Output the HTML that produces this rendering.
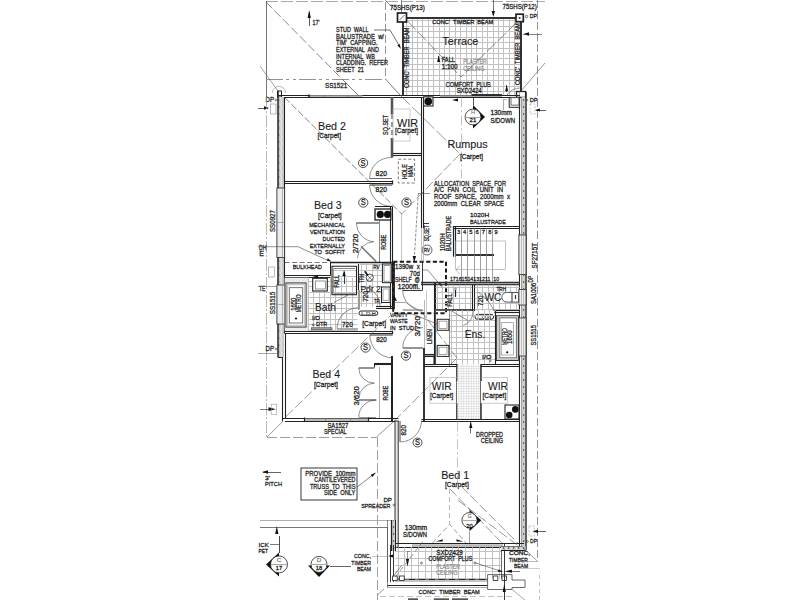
<!DOCTYPE html>
<html><head><meta charset="utf-8"><style>
html,body{margin:0;padding:0;background:#fff;width:800px;height:600px;overflow:hidden}
svg{position:absolute;left:0;top:0}
text{font-family:"Liberation Sans",sans-serif;white-space:pre}
</style></head><body>
<svg width="800" height="600" viewBox="0 0 800 600">
<defs>
<pattern id="hv" width="5" height="7" patternUnits="userSpaceOnUse"><rect width="5" height="7" fill="#cdcdcd"/><path d="M0.5,0 Q2.5,3.5 0.5,7" stroke="#e8e8e8" stroke-width="1.1" fill="none"/><circle cx="3.6" cy="2" r="0.75" fill="#333"/></pattern>
<pattern id="dots" width="2.5" height="2.5" patternUnits="userSpaceOnUse"><rect width="2.5" height="2.5" fill="#f7f7f7"/><circle cx="1.25" cy="1.25" r="0.65" fill="#bcbcbc"/></pattern>
<pattern id="bh" width="3" height="3" patternUnits="userSpaceOnUse"><rect width="3" height="3" fill="#e6e6e6"/><path d="M0,3 L3,0" stroke="#fafafa" stroke-width="0.8"/></pattern>
</defs>
<rect width="800" height="600" fill="#fff"/>
<line x1="266" y1="1.5" x2="545" y2="1.5" stroke="#aaa" stroke-width="1" stroke-dasharray="12,3"/>
<line x1="266.5" y1="1" x2="266.5" y2="97" stroke="#555" stroke-width="0.8"/>
<line x1="266" y1="79.5" x2="385.5" y2="79.5" stroke="#888" stroke-width="0.9" stroke-dasharray="17,3,3,4,3,3"/>
<line x1="266" y1="2" x2="343" y2="80" stroke="#555" stroke-width="0.7" stroke-dasharray="9,3"/>
<line x1="343" y1="80" x2="361" y2="98" stroke="#444" stroke-width="0.7"/>
<line x1="260" y1="66" x2="278" y2="91" stroke="#666" stroke-width="0.6"/>
<path d="M272.3,93 A6.6,6.6 0 0 1 285.5,93" fill="none" stroke="#888" stroke-width="0.6"/>
<rect x="277.5" y="91" width="4" height="6" fill="#fff" stroke="#222" stroke-width="1"/>
<line x1="385.5" y1="2" x2="385.5" y2="79" stroke="#777" stroke-width="0.8" stroke-dasharray="8,3"/>
<line x1="385.5" y1="79" x2="400" y2="95" stroke="#444" stroke-width="0.7"/>
<line x1="309.5" y1="12" x2="309.5" y2="26" stroke="#333" stroke-width="0.8"/>
<polygon points="307.6,18 309.2,10 310.8,18" fill="#111" stroke="none" stroke-width="0"/>
<text x="312.5" y="25" font-size="7.07" fill="#1a1a1a" stroke="#1a1a1a" stroke-width="0.26" textLength="7" lengthAdjust="spacingAndGlyphs" text-anchor="start">17'</text>
<text x="336" y="32" font-size="6.45" fill="#1a1a1a" stroke="#1a1a1a" stroke-width="0.26" textLength="32.5" lengthAdjust="spacingAndGlyphs" text-anchor="start">STUD  WALL</text>
<text x="336" y="38.67" font-size="6.45" fill="#1a1a1a" stroke="#1a1a1a" stroke-width="0.26" textLength="48" lengthAdjust="spacingAndGlyphs" text-anchor="start">BALUSTRADE  w/</text>
<text x="336" y="45.34" font-size="6.45" fill="#1a1a1a" stroke="#1a1a1a" stroke-width="0.26" textLength="41.5" lengthAdjust="spacingAndGlyphs" text-anchor="start">TIM'  CAPPING.</text>
<text x="336" y="52.01" font-size="6.45" fill="#1a1a1a" stroke="#1a1a1a" stroke-width="0.26" textLength="43" lengthAdjust="spacingAndGlyphs" text-anchor="start">EXTERNAL  AND</text>
<text x="336" y="58.68" font-size="6.45" fill="#1a1a1a" stroke="#1a1a1a" stroke-width="0.26" textLength="39" lengthAdjust="spacingAndGlyphs" text-anchor="start">INTERNAL  WB</text>
<text x="336" y="65.35" font-size="6.45" fill="#1a1a1a" stroke="#1a1a1a" stroke-width="0.26" textLength="52" lengthAdjust="spacingAndGlyphs" text-anchor="start">CLADDING.  REFER</text>
<text x="336" y="72.02" font-size="6.45" fill="#1a1a1a" stroke="#1a1a1a" stroke-width="0.26" textLength="28" lengthAdjust="spacingAndGlyphs" text-anchor="start">SHEET  21</text>
<polyline points="374,30 390,30 399.5,46" fill="none" stroke="#333" stroke-width="0.7"/>
<polygon points="401,49 397.34,45.35 399.59,44.03" fill="#111" stroke="none" stroke-width="0"/>
<text x="325" y="87.7" font-size="6.76" fill="#1a1a1a" stroke="#1a1a1a" stroke-width="0.26" textLength="22.3" lengthAdjust="spacingAndGlyphs" text-anchor="start">SS1521</text>
<line x1="406.5" y1="18.5" x2="406.5" y2="95" stroke="#c2c2c2" stroke-width="1"/>
<line x1="412.5" y1="18.5" x2="412.5" y2="95" stroke="#c2c2c2" stroke-width="1"/>
<line x1="417.5" y1="18.5" x2="417.5" y2="95" stroke="#c2c2c2" stroke-width="1"/>
<line x1="422.5" y1="18.5" x2="422.5" y2="95" stroke="#c2c2c2" stroke-width="1"/>
<line x1="428.5" y1="18.5" x2="428.5" y2="95" stroke="#c2c2c2" stroke-width="1"/>
<line x1="433.5" y1="18.5" x2="433.5" y2="95" stroke="#c2c2c2" stroke-width="1"/>
<line x1="439.5" y1="18.5" x2="439.5" y2="95" stroke="#c2c2c2" stroke-width="1"/>
<line x1="444.5" y1="18.5" x2="444.5" y2="95" stroke="#c2c2c2" stroke-width="1"/>
<line x1="449.5" y1="18.5" x2="449.5" y2="95" stroke="#c2c2c2" stroke-width="1"/>
<line x1="455.5" y1="18.5" x2="455.5" y2="95" stroke="#c2c2c2" stroke-width="1"/>
<line x1="460.5" y1="18.5" x2="460.5" y2="95" stroke="#c2c2c2" stroke-width="1"/>
<line x1="466.5" y1="18.5" x2="466.5" y2="95" stroke="#c2c2c2" stroke-width="1"/>
<line x1="471.5" y1="18.5" x2="471.5" y2="95" stroke="#c2c2c2" stroke-width="1"/>
<line x1="476.5" y1="18.5" x2="476.5" y2="95" stroke="#c2c2c2" stroke-width="1"/>
<line x1="482.5" y1="18.5" x2="482.5" y2="95" stroke="#c2c2c2" stroke-width="1"/>
<line x1="487.5" y1="18.5" x2="487.5" y2="95" stroke="#c2c2c2" stroke-width="1"/>
<line x1="493.5" y1="18.5" x2="493.5" y2="95" stroke="#c2c2c2" stroke-width="1"/>
<line x1="498.5" y1="18.5" x2="498.5" y2="95" stroke="#c2c2c2" stroke-width="1"/>
<line x1="503.5" y1="18.5" x2="503.5" y2="95" stroke="#c2c2c2" stroke-width="1"/>
<line x1="509.5" y1="18.5" x2="509.5" y2="95" stroke="#c2c2c2" stroke-width="1"/>
<line x1="514.5" y1="18.5" x2="514.5" y2="95" stroke="#c2c2c2" stroke-width="1"/>
<line x1="403.5" y1="20.5" x2="519.8" y2="20.5" stroke="#c2c2c2" stroke-width="1"/>
<line x1="403.5" y1="26.5" x2="519.8" y2="26.5" stroke="#c2c2c2" stroke-width="1"/>
<line x1="403.5" y1="31.5" x2="519.8" y2="31.5" stroke="#c2c2c2" stroke-width="1"/>
<line x1="403.5" y1="37.5" x2="519.8" y2="37.5" stroke="#c2c2c2" stroke-width="1"/>
<line x1="403.5" y1="42.5" x2="519.8" y2="42.5" stroke="#c2c2c2" stroke-width="1"/>
<line x1="403.5" y1="48.5" x2="519.8" y2="48.5" stroke="#c2c2c2" stroke-width="1"/>
<line x1="403.5" y1="53.5" x2="519.8" y2="53.5" stroke="#c2c2c2" stroke-width="1"/>
<line x1="403.5" y1="58.5" x2="519.8" y2="58.5" stroke="#c2c2c2" stroke-width="1"/>
<line x1="403.5" y1="64.5" x2="519.8" y2="64.5" stroke="#c2c2c2" stroke-width="1"/>
<line x1="403.5" y1="69.5" x2="519.8" y2="69.5" stroke="#c2c2c2" stroke-width="1"/>
<line x1="403.5" y1="75.5" x2="519.8" y2="75.5" stroke="#c2c2c2" stroke-width="1"/>
<line x1="403.5" y1="80.5" x2="519.8" y2="80.5" stroke="#c2c2c2" stroke-width="1"/>
<line x1="403.5" y1="86.5" x2="519.8" y2="86.5" stroke="#c2c2c2" stroke-width="1"/>
<line x1="403.5" y1="91.5" x2="519.8" y2="91.5" stroke="#c2c2c2" stroke-width="1"/>
<line x1="406.5" y1="18" x2="516" y2="18" stroke="#333" stroke-width="1.8"/>
<line x1="403" y1="22" x2="403" y2="95" stroke="#333" stroke-width="2"/>
<line x1="521" y1="22" x2="521" y2="92" stroke="#333" stroke-width="2"/>
<rect x="397.5" y="13" width="9" height="9" fill="#fff" stroke="#222" stroke-width="1.7"/>
<line x1="399.5" y1="20" x2="404.5" y2="15" stroke="#444" stroke-width="0.8"/>
<rect x="516" y="14.2" width="7.3" height="7.5" fill="#fff" stroke="#222" stroke-width="1.7"/>
<circle cx="519.6" cy="18" r="1" fill="#333" stroke="none" stroke-width="0"/>
<line x1="401.5" y1="0" x2="401.5" y2="13" stroke="#555" stroke-width="0.7"/>
<line x1="385" y1="0" x2="396" y2="11" stroke="#555" stroke-width="0.6"/>
<text x="390" y="9.6" font-size="6.55" fill="#1a1a1a" stroke="#1a1a1a" stroke-width="0.26" textLength="34.8" lengthAdjust="spacingAndGlyphs" text-anchor="start">75SHS(P13)</text>
<text x="502.5" y="9.3" font-size="6.55" fill="#1a1a1a" stroke="#1a1a1a" stroke-width="0.26" textLength="34.2" lengthAdjust="spacingAndGlyphs" text-anchor="start">75SHS(P12)</text>
<circle cx="526.5" cy="16.5" r="1.2" fill="none" stroke="#222" stroke-width="0.6"/>
<text x="529.7" y="18.3" font-size="5.82" fill="#1a1a1a" stroke="#1a1a1a" stroke-width="0.26" textLength="7.3" lengthAdjust="spacingAndGlyphs" text-anchor="start">DP</text>
<line x1="493.5" y1="0" x2="493.5" y2="13" stroke="#333" stroke-width="0.7"/>
<polygon points="491.6,11 495,11 493.3,17" fill="#111" stroke="none" stroke-width="0"/>
<text x="432.3" y="23.5" font-size="5.41" fill="#1a1a1a" stroke="#1a1a1a" stroke-width="0.26" textLength="61" lengthAdjust="spacingAndGlyphs" text-anchor="start">CONC'  TIMBER  BEAM</text>
<text x="0" y="0" font-size="6.3" fill="#1a1a1a" stroke="#1a1a1a" stroke-width="0.26" textLength="60.5" lengthAdjust="spacingAndGlyphs" transform="translate(408.6 88) rotate(-90)">CONC'  TIMBER  BEAM</text>
<text x="0" y="0" font-size="6.3" fill="#1a1a1a" stroke="#1a1a1a" stroke-width="0.26" textLength="61.7" lengthAdjust="spacingAndGlyphs" transform="translate(519.81 85) rotate(-90)">CONC'  TIMBER  BEAM</text>
<line x1="523" y1="34.5" x2="542" y2="34.5" stroke="#555" stroke-width="0.7"/>
<polygon points="523.5,34 529,32.3 529,35.7" fill="#111" stroke="none" stroke-width="0"/>
<text x="442.5" y="45" font-size="11.4" fill="#1a1a1a" stroke="#1a1a1a" stroke-width="0.1" textLength="35.8" lengthAdjust="spacingAndGlyphs" text-anchor="start">Terrace</text>
<line x1="438.5" y1="56" x2="438.5" y2="62" stroke="#222" stroke-width="0.9"/>
<polygon points="437.1,62 438.7,56 440.3,62" fill="#111" stroke="none" stroke-width="0"/>
<text x="441.7" y="62" font-size="6.34" fill="#1a1a1a" stroke="#1a1a1a" stroke-width="0.26" textLength="13.3" lengthAdjust="spacingAndGlyphs" text-anchor="start">FALL</text>
<text x="441.7" y="69.3" font-size="6.34" fill="#1a1a1a" stroke="#1a1a1a" stroke-width="0.26" textLength="15.8" lengthAdjust="spacingAndGlyphs" text-anchor="start">1:100</text>
<text x="463.3" y="64.2" font-size="6.34" fill="#808080" stroke="#808080" stroke-width="0.15" textLength="23.4" lengthAdjust="spacingAndGlyphs" text-anchor="start">PLASTER</text>
<text x="463.3" y="70.8" font-size="6.34" fill="#808080" stroke="#808080" stroke-width="0.15" textLength="20.9" lengthAdjust="spacingAndGlyphs" text-anchor="start">CEILING</text>
<line x1="407.5" y1="21" x2="461" y2="77" stroke="#444" stroke-width="0.6" stroke-dasharray="12,3"/>
<line x1="517" y1="22" x2="461" y2="77" stroke="#444" stroke-width="0.6" stroke-dasharray="12,3"/>
<text x="445.7" y="86.7" font-size="6.34" fill="#1a1a1a" stroke="#1a1a1a" stroke-width="0.26" textLength="45.1" lengthAdjust="spacingAndGlyphs" text-anchor="start">COMFORT  PLUS</text>
<text x="456.7" y="92.5" font-size="6.34" fill="#1a1a1a" stroke="#1a1a1a" stroke-width="0.26" textLength="25" lengthAdjust="spacingAndGlyphs" text-anchor="start">SXD2424</text>
<line x1="506.5" y1="85" x2="506.5" y2="92" stroke="#222" stroke-width="0.7"/>
<polygon points="505.2,91 506.7,85 508.2,91" fill="#111" stroke="none" stroke-width="0"/>
<path d="M507,95 Q512,88 520,88" fill="none" stroke="#555" stroke-width="0.6"/>
<line x1="521" y1="91" x2="545" y2="63" stroke="#555" stroke-width="0.6"/>
<line x1="537.5" y1="0" x2="537.5" y2="561" stroke="#777" stroke-width="0.8" stroke-dasharray="8,3"/>
<rect x="516.5" y="91.5" width="9.1" height="5.9" fill="#fff" stroke="#222" stroke-width="1.3"/>
<line x1="519.5" y1="91.5" x2="519.5" y2="97.4" stroke="#777" stroke-width="0.6"/>
<text x="529.7" y="101.6" font-size="6.03" fill="#1a1a1a" stroke="#1a1a1a" stroke-width="0.26" textLength="7.8" lengthAdjust="spacingAndGlyphs" text-anchor="start">DP</text>
<circle cx="527" cy="100" r="0.9" fill="none" stroke="#222" stroke-width="0.5"/>
<rect x="530" y="104" width="5" height="10" fill="none" stroke="#999" stroke-width="0.6" stroke-dasharray="2,1.5"/>
<line x1="536" y1="110.5" x2="546" y2="110.5" stroke="#222" stroke-width="0.7"/>
<polygon points="535,110 540,108.4 540,111.6" fill="#111" stroke="none" stroke-width="0"/>
<line x1="277.5" y1="95.5" x2="520" y2="95.5" stroke="#222" stroke-width="1.2"/>
<line x1="284.5" y1="97.5" x2="519.5" y2="97.5" stroke="#222" stroke-width="1.1"/>
<rect x="309" y="95.4" width="53.5" height="1.6" fill="#bbb" stroke="none" stroke-width="0"/>
<line x1="309" y1="94.5" x2="309" y2="98" stroke="#222" stroke-width="1.6"/>
<line x1="324.5" y1="95" x2="324.5" y2="97.4" stroke="#666" stroke-width="0.6"/>
<line x1="347.5" y1="95" x2="347.5" y2="97.4" stroke="#666" stroke-width="0.6"/>
<rect x="440" y="95.4" width="62" height="1.6" fill="#aaa" stroke="none" stroke-width="0"/>
<line x1="471.6" y1="95" x2="502" y2="95" stroke="#222" stroke-width="1.8"/>
<polygon points="452,100 458,98.6 458,101.4" fill="#111" stroke="none" stroke-width="0"/>
<rect x="278.4" y="97" width="4.8" height="260" fill="url(#hv)"/>
<line x1="278" y1="91" x2="278" y2="357" stroke="#222" stroke-width="1.5"/>
<line x1="283.5" y1="97" x2="283.5" y2="357" stroke="#aaa" stroke-width="0.6"/>
<line x1="284.5" y1="97" x2="284.5" y2="333.3" stroke="#222" stroke-width="1.1"/>
<rect x="276.9" y="188" width="7.7" height="69.5" fill="#ececec" stroke="#333" stroke-width="0.9"/>
<line x1="282.5" y1="188" x2="282.5" y2="257.5" stroke="#999" stroke-width="0.7"/>
<line x1="277" y1="222.5" x2="284.6" y2="222.5" stroke="#888" stroke-width="0.6"/>
<rect x="276.9" y="285" width="7.7" height="39" fill="#ececec" stroke="#333" stroke-width="0.9"/>
<line x1="282.5" y1="285" x2="282.5" y2="324" stroke="#999" stroke-width="0.7"/>
<line x1="277" y1="304.5" x2="284.6" y2="304.5" stroke="#888" stroke-width="0.6"/>
<line x1="282.5" y1="357" x2="282.5" y2="421.3" stroke="#222" stroke-width="1.1"/>
<line x1="285.5" y1="333.3" x2="285.5" y2="419" stroke="#222" stroke-width="1.1"/>
<line x1="277.75" y1="357.5" x2="282.6" y2="357.5" stroke="#222" stroke-width="1"/>
<rect x="521.8" y="97" width="3.4" height="450" fill="url(#hv)"/>
<line x1="519.5" y1="97" x2="519.5" y2="547.3" stroke="#222" stroke-width="1.1"/>
<line x1="521.5" y1="97" x2="521.5" y2="547" stroke="#777" stroke-width="0.7"/>
<line x1="526" y1="92" x2="526" y2="550" stroke="#222" stroke-width="1.4"/>
<rect x="518.9" y="235" width="7.1" height="39.5" fill="#f0f0f0" stroke="#333" stroke-width="0.9"/>
<line x1="521.5" y1="235" x2="521.5" y2="274.5" stroke="#999" stroke-width="0.6"/>
<line x1="523.5" y1="235" x2="523.5" y2="274.5" stroke="#999" stroke-width="0.6"/>
<rect x="518.9" y="289.5" width="7.1" height="15.5" fill="#f0f0f0" stroke="#333" stroke-width="0.9"/>
<line x1="521.5" y1="289.5" x2="521.5" y2="305" stroke="#999" stroke-width="0.6"/>
<line x1="523.5" y1="289.5" x2="523.5" y2="305" stroke="#999" stroke-width="0.6"/>
<rect x="518.9" y="318" width="7.1" height="38" fill="#f0f0f0" stroke="#333" stroke-width="0.9"/>
<line x1="521.5" y1="318" x2="521.5" y2="356" stroke="#999" stroke-width="0.6"/>
<line x1="523.5" y1="318" x2="523.5" y2="356" stroke="#999" stroke-width="0.6"/>
<rect x="509.2" y="97.4" width="10.4" height="9.9" fill="#fff" stroke="#222" stroke-width="1"/>
<rect x="511" y="97.7" width="7.9" height="7.4" fill="#fff" stroke="#444" stroke-width="0.8"/>
<line x1="503.5" y1="110" x2="503.5" y2="99.4" stroke="#777" stroke-width="0.6"/>
<line x1="503.5" y1="99.5" x2="506.6" y2="99.5" stroke="#777" stroke-width="0.6"/>
<text x="265.5" y="102" font-size="6.86" fill="#1a1a1a" stroke="#1a1a1a" stroke-width="0.26" textLength="8.5" lengthAdjust="spacingAndGlyphs" text-anchor="start">DP</text>
<circle cx="276" cy="100" r="1" fill="none" stroke="#222" stroke-width="0.5"/>
<line x1="258" y1="108.5" x2="268" y2="108.5" stroke="#222" stroke-width="0.7"/>
<polygon points="269,108 264,106.3 264,109.7" fill="#111" stroke="none" stroke-width="0"/>
<rect x="270.5" y="104" width="5.5" height="10" fill="none" stroke="#999" stroke-width="0.7"/>
<line x1="266.5" y1="97" x2="266.5" y2="437" stroke="#999" stroke-width="0.7" stroke-dasharray="12,2,2,2"/>
<text x="259" y="249.5" font-size="6.86" fill="#1a1a1a" stroke="#1a1a1a" stroke-width="0.26" textLength="7.5" lengthAdjust="spacingAndGlyphs" text-anchor="start">DH</text>
<text x="259.3" y="256.3" font-size="6.86" fill="#1a1a1a" stroke="#1a1a1a" stroke-width="0.26" textLength="4.7" lengthAdjust="spacingAndGlyphs" text-anchor="start">E</text>
<polyline points="258,246.7 298,246.7 329,261" fill="none" stroke="#444" stroke-width="0.6"/>
<polygon points="331.7,261.7 326.67,260.58 327.79,258.35" fill="#111" stroke="none" stroke-width="0"/>
<rect x="268.5" y="267" width="6" height="10" fill="none" stroke="#999" stroke-width="0.7"/>
<text x="0" y="0" font-size="6.48" fill="#1a1a1a" stroke="#1a1a1a" stroke-width="0.26" textLength="22" lengthAdjust="spacingAndGlyphs" transform="translate(274.57 232) rotate(-90)">SS0927</text>
<text x="259" y="290.5" font-size="6.86" fill="#1a1a1a" stroke="#1a1a1a" stroke-width="0.26" textLength="6.5" lengthAdjust="spacingAndGlyphs" text-anchor="start">TE</text>
<line x1="258" y1="286.5" x2="277" y2="286.5" stroke="#666" stroke-width="0.6"/>
<text x="0" y="0" font-size="6.48" fill="#1a1a1a" stroke="#1a1a1a" stroke-width="0.26" textLength="22.5" lengthAdjust="spacingAndGlyphs" transform="translate(275.27 314.2) rotate(-90)">SS1515</text>
<text x="265.5" y="351" font-size="6.86" fill="#1a1a1a" stroke="#1a1a1a" stroke-width="0.26" textLength="8.5" lengthAdjust="spacingAndGlyphs" text-anchor="start">DP</text>
<circle cx="276" cy="349" r="1" fill="none" stroke="#222" stroke-width="0.5"/>
<line x1="258" y1="353.5" x2="277" y2="353.5" stroke="#666" stroke-width="0.6"/>
<polygon points="275.8,409.2 268.5,407.3 268.5,411.1" fill="#111" stroke="none" stroke-width="0"/>
<line x1="260" y1="409.5" x2="269" y2="409.5" stroke="#222" stroke-width="0.6"/>
<rect x="271.2" y="404.2" width="5.5" height="10.1" fill="none" stroke="#999" stroke-width="0.6"/>
<text x="0" y="0" font-size="6.48" fill="#1a1a1a" stroke="#1a1a1a" stroke-width="0.26" textLength="25.5" lengthAdjust="spacingAndGlyphs" transform="translate(536.77 268.5) rotate(-90)">SF2715T</text>
<text x="0" y="0" font-size="6.48" fill="#1a1a1a" stroke="#1a1a1a" stroke-width="0.26" textLength="21" lengthAdjust="spacingAndGlyphs" transform="translate(536.27 304) rotate(-90)">SA1006</text>
<text x="0" y="0" font-size="6.48" fill="#1a1a1a" stroke="#1a1a1a" stroke-width="0.26" textLength="20.5" lengthAdjust="spacingAndGlyphs" transform="translate(536.27 345.5) rotate(-90)">SS1515</text>
<text x="0" y="0" font-size="6.3" fill="#1a1a1a" stroke="#1a1a1a" stroke-width="0.26" textLength="6.5" lengthAdjust="spacingAndGlyphs" transform="translate(533.21 282.5) rotate(-90)">DP</text>
<text x="318" y="130" font-size="11.4" fill="#1a1a1a" stroke="#1a1a1a" stroke-width="0.1" textLength="28" lengthAdjust="spacingAndGlyphs" text-anchor="start">Bed 2</text>
<text x="317.5" y="138" font-size="7.18" fill="#1a1a1a" stroke="#1a1a1a" stroke-width="0.26" textLength="23.5" lengthAdjust="spacingAndGlyphs" text-anchor="start">[Carpet]</text>
<line x1="284.6" y1="181.5" x2="392" y2="181.5" stroke="#222" stroke-width="1.1"/>
<line x1="284.6" y1="183.5" x2="392" y2="183.5" stroke="#222" stroke-width="1.1"/>
<line x1="392.5" y1="180.5" x2="392.5" y2="184.5" stroke="#222" stroke-width="1.3"/>
<line x1="369.6" y1="178.5" x2="392" y2="178.5" stroke="#444" stroke-width="0.8"/>
<line x1="369.6" y1="185" x2="392" y2="185" stroke="#888" stroke-width="1.8"/>
<path d="M391.8,157.6 A21.1,21.1 0 0 0 369.6,178.7" fill="none" stroke="#444" stroke-width="0.6"/>
<path d="M369.6,185 A21.6,21.6 0 0 0 391.8,206.3" fill="none" stroke="#444" stroke-width="0.6"/>
<text x="375.6" y="175.5" font-size="6.55" fill="#1a1a1a" stroke="#1a1a1a" stroke-width="0.26" textLength="11.4" lengthAdjust="spacingAndGlyphs" text-anchor="start">820</text>
<text x="375.6" y="191.7" font-size="6.55" fill="#1a1a1a" stroke="#1a1a1a" stroke-width="0.26" textLength="11.4" lengthAdjust="spacingAndGlyphs" text-anchor="start">820</text>
<circle cx="363.1" cy="163" r="4.6" fill="none" stroke="#222" stroke-width="0.8"/>
<text x="360.6" y="165.8" font-size="8.22" fill="#1a1a1a" stroke="#1a1a1a" stroke-width="0.25" textLength="5" lengthAdjust="spacingAndGlyphs" text-anchor="start">S</text>
<circle cx="363.3" cy="202.6" r="4.6" fill="none" stroke="#222" stroke-width="0.8"/>
<text x="360.8" y="205.4" font-size="8.22" fill="#1a1a1a" stroke="#1a1a1a" stroke-width="0.25" textLength="5" lengthAdjust="spacingAndGlyphs" text-anchor="start">S</text>
<circle cx="406.5" cy="202.5" r="4.6" fill="none" stroke="#222" stroke-width="0.8"/>
<text x="404" y="205.3" font-size="8.22" fill="#1a1a1a" stroke="#1a1a1a" stroke-width="0.25" textLength="5" lengthAdjust="spacingAndGlyphs" text-anchor="start">S</text>
<line x1="392" y1="97" x2="392" y2="114" stroke="#555" stroke-width="2.6"/>
<line x1="392" y1="114" x2="392" y2="138" stroke="#999" stroke-width="2.2" stroke-dasharray="5,3"/>
<line x1="392" y1="138" x2="392" y2="157.6" stroke="#555" stroke-width="2.6"/>
<line x1="421.5" y1="97" x2="421.5" y2="228" stroke="#222" stroke-width="1.1"/>
<line x1="423.5" y1="97" x2="423.5" y2="228" stroke="#222" stroke-width="1.1"/>
<line x1="393" y1="153.5" x2="421.7" y2="153.5" stroke="#222" stroke-width="1.1"/>
<line x1="393" y1="155.5" x2="421.7" y2="155.5" stroke="#222" stroke-width="1.1"/>
<rect x="393" y="109" width="17" height="32" fill="none" stroke="#aaa" stroke-width="0.6"/>
<text x="397" y="127" font-size="11" fill="#1a1a1a" stroke="#1a1a1a" stroke-width="0.1" textLength="21" lengthAdjust="spacingAndGlyphs" text-anchor="start">WIR</text>
<text x="395" y="133.3" font-size="7.18" fill="#1a1a1a" stroke="#1a1a1a" stroke-width="0.26" textLength="23" lengthAdjust="spacingAndGlyphs" text-anchor="start">[Carpet]</text>
<text x="0" y="0" font-size="6.3" fill="#1a1a1a" stroke="#1a1a1a" stroke-width="0.26" textLength="20" lengthAdjust="spacingAndGlyphs" transform="translate(388.2 135) rotate(-90)">SQ.SET</text>
<rect x="423.7" y="96.8" width="9.3" height="9.2" fill="#fff" stroke="#222" stroke-width="1.1"/>
<circle cx="428.3" cy="101.4" r="3.8" fill="#111" stroke="none" stroke-width="0"/>
<rect x="398.3" y="159.2" width="16.3" height="23.8" fill="none" stroke="#444" stroke-width="0.7" stroke-dasharray="3,2"/>
<text x="0" y="0" font-size="6.3" fill="#1a1a1a" stroke="#1a1a1a" stroke-width="0.26" textLength="15.3" lengthAdjust="spacingAndGlyphs" transform="translate(406.5 179.3) rotate(-90)">HOLE</text>
<text x="0" y="0" font-size="6.3" fill="#1a1a1a" stroke="#1a1a1a" stroke-width="0.26" textLength="11" lengthAdjust="spacingAndGlyphs" transform="translate(412.5 177) rotate(-90)">MAN</text>
<text x="314" y="208.7" font-size="11.4" fill="#1a1a1a" stroke="#1a1a1a" stroke-width="0.1" textLength="27.7" lengthAdjust="spacingAndGlyphs" text-anchor="start">Bed 3</text>
<text x="318" y="218" font-size="7.18" fill="#1a1a1a" stroke="#1a1a1a" stroke-width="0.26" textLength="23.7" lengthAdjust="spacingAndGlyphs" text-anchor="start">[Carpet]</text>
<text x="309.2" y="227.2" font-size="6.24" fill="#1a1a1a" stroke="#1a1a1a" stroke-width="0.26" textLength="35.8" lengthAdjust="spacingAndGlyphs" text-anchor="start">MECHANICAL</text>
<text x="310" y="234" font-size="6.24" fill="#1a1a1a" stroke="#1a1a1a" stroke-width="0.26" textLength="35" lengthAdjust="spacingAndGlyphs" text-anchor="start">VENTILATION</text>
<text x="322.5" y="240.8" font-size="6.24" fill="#1a1a1a" stroke="#1a1a1a" stroke-width="0.26" textLength="22.5" lengthAdjust="spacingAndGlyphs" text-anchor="start">DUCTED</text>
<text x="309.7" y="247.6" font-size="6.24" fill="#1a1a1a" stroke="#1a1a1a" stroke-width="0.26" textLength="35.3" lengthAdjust="spacingAndGlyphs" text-anchor="start">EXTERNALLY</text>
<text x="314.2" y="254.4" font-size="6.24" fill="#1a1a1a" stroke="#1a1a1a" stroke-width="0.26" textLength="30.8" lengthAdjust="spacingAndGlyphs" text-anchor="start">TO  SOFFIT</text>
<line x1="390.5" y1="206.3" x2="390.5" y2="309" stroke="#222" stroke-width="1.1"/>
<line x1="392.5" y1="206.3" x2="392.5" y2="309" stroke="#222" stroke-width="1.1"/>
<rect x="375" y="209" width="15.8" height="11" fill="#fff" stroke="#222" stroke-width="1.3"/>
<circle cx="380.3" cy="214.4" r="3.6" fill="#111" stroke="none" stroke-width="0"/>
<circle cx="387.6" cy="214.4" r="3.6" fill="#111" stroke="none" stroke-width="0"/>
<line x1="375" y1="206.5" x2="392" y2="206.5" stroke="#222" stroke-width="1"/>
<line x1="379.5" y1="220" x2="379.5" y2="262" stroke="#555" stroke-width="0.7"/>
<line x1="356.3" y1="223" x2="379" y2="223" stroke="#888" stroke-width="1.8"/>
<path d="M356.3,223 A19,19 0 0 0 373.8,241.7 A17,17 0 0 0 357.5,258" fill="none" stroke="#444" stroke-width="0.6"/>
<line x1="361" y1="246.3" x2="376.2" y2="261.5" stroke="#777" stroke-width="1.6"/>
<text x="0" y="0" font-size="6.48" fill="#1a1a1a" stroke="#1a1a1a" stroke-width="0.26" textLength="19.3" lengthAdjust="spacingAndGlyphs" transform="translate(357.97 253.3) rotate(-90)">2/720</text>
<text x="0" y="0" font-size="6.3" fill="#1a1a1a" stroke="#1a1a1a" stroke-width="0.26" textLength="15.1" lengthAdjust="spacingAndGlyphs" transform="translate(386 249.8) rotate(-90)">ROBE</text>
<line x1="284.6" y1="97.4" x2="401.7" y2="214" stroke="#3a3a3a" stroke-width="0.65" stroke-dasharray="7,2.5"/>
<line x1="400" y1="95" x2="460" y2="154" stroke="#555" stroke-width="0.6" stroke-dasharray="14,3"/>
<line x1="460" y1="154" x2="401.7" y2="214" stroke="#555" stroke-width="0.6" stroke-dasharray="10,3"/>
<line x1="401.5" y1="214" x2="401.5" y2="262" stroke="#999" stroke-width="0.6"/>
<line x1="461.5" y1="97.4" x2="461.5" y2="178" stroke="#999" stroke-width="0.6" stroke-dasharray="10,3,2,3"/>
<line x1="284.6" y1="262.5" x2="329.3" y2="262.5" stroke="#555" stroke-width="0.8" stroke-dasharray="5,2.5"/>
<text x="292.7" y="269" font-size="6.24" fill="#1a1a1a" stroke="#1a1a1a" stroke-width="0.26" textLength="29.3" lengthAdjust="spacingAndGlyphs" text-anchor="start">BULKHEAD</text>
<line x1="330.5" y1="262" x2="330.5" y2="275.7" stroke="#222" stroke-width="1"/>
<line x1="284.6" y1="275.5" x2="330.7" y2="275.5" stroke="#222" stroke-width="1.1"/>
<line x1="284.6" y1="277.5" x2="330.7" y2="277.5" stroke="#222" stroke-width="1.1"/>
<line x1="262.5" y1="262.5" x2="262.5" y2="262.5" stroke="#222" stroke-width="1"/>
<line x1="330.7" y1="262.5" x2="393" y2="262.5" stroke="#222" stroke-width="1.3"/>
<polygon points="312,277 318,275.4 318,278.6" fill="#111" stroke="none" stroke-width="0"/>
<rect x="284.6" y="277.7" width="24.1" height="53.5" fill="url(#bh)"/>
<line x1="308.5" y1="277.7" x2="308.5" y2="331.3" stroke="#c2c2c2" stroke-width="1"/>
<line x1="313.5" y1="277.7" x2="313.5" y2="331.3" stroke="#c2c2c2" stroke-width="1"/>
<line x1="319.5" y1="277.7" x2="319.5" y2="331.3" stroke="#c2c2c2" stroke-width="1"/>
<line x1="324.5" y1="277.7" x2="324.5" y2="331.3" stroke="#c2c2c2" stroke-width="1"/>
<line x1="330.5" y1="277.7" x2="330.5" y2="331.3" stroke="#c2c2c2" stroke-width="1"/>
<line x1="335.5" y1="277.7" x2="335.5" y2="331.3" stroke="#c2c2c2" stroke-width="1"/>
<line x1="341.5" y1="277.7" x2="341.5" y2="331.3" stroke="#c2c2c2" stroke-width="1"/>
<line x1="346.5" y1="277.7" x2="346.5" y2="331.3" stroke="#c2c2c2" stroke-width="1"/>
<line x1="352.5" y1="277.7" x2="352.5" y2="331.3" stroke="#c2c2c2" stroke-width="1"/>
<line x1="308" y1="281.5" x2="357.5" y2="281.5" stroke="#c2c2c2" stroke-width="1"/>
<line x1="308" y1="286.5" x2="357.5" y2="286.5" stroke="#c2c2c2" stroke-width="1"/>
<line x1="308" y1="292.5" x2="357.5" y2="292.5" stroke="#c2c2c2" stroke-width="1"/>
<line x1="308" y1="297.5" x2="357.5" y2="297.5" stroke="#c2c2c2" stroke-width="1"/>
<line x1="308" y1="303.5" x2="357.5" y2="303.5" stroke="#c2c2c2" stroke-width="1"/>
<line x1="308" y1="308.5" x2="357.5" y2="308.5" stroke="#c2c2c2" stroke-width="1"/>
<line x1="308" y1="313.5" x2="357.5" y2="313.5" stroke="#c2c2c2" stroke-width="1"/>
<line x1="308" y1="319.5" x2="357.5" y2="319.5" stroke="#c2c2c2" stroke-width="1"/>
<line x1="308" y1="324.5" x2="357.5" y2="324.5" stroke="#c2c2c2" stroke-width="1"/>
<line x1="308" y1="330.5" x2="357.5" y2="330.5" stroke="#c2c2c2" stroke-width="1"/>
<line x1="332" y1="270.5" x2="357" y2="270.5" stroke="#c2c2c2" stroke-width="1"/>
<line x1="332" y1="276.5" x2="357" y2="276.5" stroke="#c2c2c2" stroke-width="1"/>
<line x1="332" y1="281.5" x2="357" y2="281.5" stroke="#c2c2c2" stroke-width="1"/>
<rect x="286" y="283" width="20" height="44" fill="#fff" stroke="#333" stroke-width="1.1"/>
<rect x="287.3" y="284.5" width="17.4" height="41" fill="none" stroke="#c8c8c8" stroke-width="1.6"/>
<rect x="289.3" y="287.7" width="13.4" height="35.3" fill="#fff" stroke="#555" stroke-width="0.8"/>
<text x="0" y="0" font-size="6.696000000000001" fill="#1a1a1a" stroke="#1a1a1a" stroke-width="0.26" textLength="13" lengthAdjust="spacingAndGlyphs" transform="translate(296.04 310.7) rotate(-90)">1650</text>
<text x="0" y="0" font-size="6.696000000000001" fill="#1a1a1a" stroke="#1a1a1a" stroke-width="0.26" textLength="18" lengthAdjust="spacingAndGlyphs" transform="translate(301.34 312.3) rotate(-90)">METRO</text>
<circle cx="296" cy="318.5" r="1.1" fill="#111" stroke="none" stroke-width="0"/>
<rect x="312.7" y="278.3" width="14.6" height="12.7" fill="#fff" stroke="#222" stroke-width="1.1"/>
<rect x="315.3" y="281" width="10" height="8" fill="#fff" stroke="#666" stroke-width="0.7"/>
<text x="315" y="310.7" font-size="10" fill="#1a1a1a" stroke="#1a1a1a" stroke-width="0.1" textLength="21" lengthAdjust="spacingAndGlyphs" text-anchor="start">Bath</text>
<text x="312" y="319.7" font-size="6.24" fill="#1a1a1a" stroke="#1a1a1a" stroke-width="0.26" textLength="8" lengthAdjust="spacingAndGlyphs" text-anchor="start">I/O</text>
<text x="316" y="326.3" font-size="6.24" fill="#1a1a1a" stroke="#1a1a1a" stroke-width="0.26" textLength="11.3" lengthAdjust="spacingAndGlyphs" text-anchor="start">DTR</text>
<circle cx="313.2" cy="324.8" r="1" fill="none" stroke="#222" stroke-width="0.6"/>
<rect x="311.3" y="327.8" width="20.7" height="2" fill="#aaa" stroke="#333" stroke-width="0.6"/>
<rect x="332" y="266.3" width="24.5" height="28.4" fill="none" stroke="#222" stroke-width="1.1"/>
<line x1="333.5" y1="268" x2="333.5" y2="293" stroke="#666" stroke-width="0.6"/>
<line x1="333.5" y1="293.5" x2="355" y2="293.5" stroke="#666" stroke-width="0.6"/>
<line x1="334" y1="266.5" x2="355" y2="266.5" stroke="#666" stroke-width="0.8"/>
<line x1="334" y1="268.5" x2="355" y2="268.5" stroke="#666" stroke-width="0.8"/>
<text x="0" y="0" font-size="6.912000000000001" fill="#1a1a1a" stroke="#1a1a1a" stroke-width="0.26" textLength="12.7" lengthAdjust="spacingAndGlyphs" transform="translate(339.02 287.7) rotate(-90)">FALL</text>
<line x1="344.5" y1="272" x2="344.5" y2="284" stroke="#222" stroke-width="0.9"/>
<polygon points="342.5,276 344.1,270 345.7,276" fill="#111" stroke="none" stroke-width="0"/>
<line x1="334" y1="302.5" x2="348.4" y2="294.7" stroke="#444" stroke-width="0.6"/>
<path d="M337,328.8 A21,21 0 0 1 358,307.8" fill="none" stroke="#444" stroke-width="0.6"/>
<text x="342" y="326.6" font-size="6.45" fill="#1a1a1a" stroke="#1a1a1a" stroke-width="0.26" textLength="10.7" lengthAdjust="spacingAndGlyphs" text-anchor="start">720</text>
<line x1="337" y1="329" x2="358" y2="329" stroke="#999" stroke-width="1.6"/>
<line x1="284.6" y1="331.5" x2="392.7" y2="331.5" stroke="#222" stroke-width="1.1"/>
<line x1="284.6" y1="333.5" x2="392.7" y2="333.5" stroke="#222" stroke-width="1.1"/>
<line x1="392.5" y1="330.8" x2="392.5" y2="334.2" stroke="#222" stroke-width="1.3"/>
<line x1="358.5" y1="264" x2="358.5" y2="309.6" stroke="#222" stroke-width="1.1"/>
<line x1="359" y1="290" x2="359" y2="309.6" stroke="#999" stroke-width="2"/>
<line x1="361.5" y1="263.5" x2="361.5" y2="307" stroke="#c2c2c2" stroke-width="1"/>
<line x1="366.5" y1="263.5" x2="366.5" y2="307" stroke="#c2c2c2" stroke-width="1"/>
<line x1="372.5" y1="263.5" x2="372.5" y2="307" stroke="#c2c2c2" stroke-width="1"/>
<line x1="377.5" y1="263.5" x2="377.5" y2="307" stroke="#c2c2c2" stroke-width="1"/>
<line x1="360" y1="264.5" x2="382" y2="264.5" stroke="#c2c2c2" stroke-width="1"/>
<line x1="360" y1="270.5" x2="382" y2="270.5" stroke="#c2c2c2" stroke-width="1"/>
<line x1="360" y1="275.5" x2="382" y2="275.5" stroke="#c2c2c2" stroke-width="1"/>
<line x1="360" y1="281.5" x2="382" y2="281.5" stroke="#c2c2c2" stroke-width="1"/>
<line x1="360" y1="286.5" x2="382" y2="286.5" stroke="#c2c2c2" stroke-width="1"/>
<line x1="360" y1="292.5" x2="382" y2="292.5" stroke="#c2c2c2" stroke-width="1"/>
<line x1="360" y1="297.5" x2="382" y2="297.5" stroke="#c2c2c2" stroke-width="1"/>
<line x1="360" y1="303.5" x2="382" y2="303.5" stroke="#c2c2c2" stroke-width="1"/>
<rect x="382.4" y="264" width="9.3" height="18.7" fill="#fff" stroke="#222" stroke-width="1"/>
<rect x="384" y="265.5" width="6.2" height="15.7" fill="none" stroke="#555" stroke-width="0.6"/>
<rect x="381.5" y="287" width="8.7" height="15.5" fill="#fff" stroke="#222" stroke-width="1"/>
<rect x="383" y="289" width="6" height="11.5" fill="none" stroke="#666" stroke-width="0.6"/>
<circle cx="369.7" cy="277.7" r="3.6" fill="#fff" stroke="#222" stroke-width="0.8"/>
<line x1="367.5" y1="275.5" x2="372" y2="280" stroke="#222" stroke-width="0.6"/>
<line x1="372" y1="275.5" x2="367.5" y2="280" stroke="#222" stroke-width="0.6"/>
<line x1="364.7" y1="271.3" x2="368" y2="275.5" stroke="#111" stroke-width="1.6"/>
<text x="373.2" y="268.5" font-size="5.72" fill="#1a1a1a" stroke="#1a1a1a" stroke-width="0.26" textLength="6.4" lengthAdjust="spacingAndGlyphs" text-anchor="start">RV</text>
<text x="0" y="0" font-size="6.3" fill="#1a1a1a" stroke="#1a1a1a" stroke-width="0.26" textLength="8.7" lengthAdjust="spacingAndGlyphs" transform="translate(364.4 282.7) rotate(-90)">TRH</text>
<text x="360.4" y="292" font-size="8.8" fill="#1a1a1a" stroke="#1a1a1a" stroke-width="0.1" textLength="20.4" lengthAdjust="spacingAndGlyphs" text-anchor="start">Pdr 2</text>
<text x="0" y="0" font-size="6.3" fill="#1a1a1a" stroke="#1a1a1a" stroke-width="0.26" textLength="10.8" lengthAdjust="spacingAndGlyphs" transform="translate(367.6 301.8) rotate(-90)">720</text>
<text x="374" y="303.2" font-size="5.62" fill="#1a1a1a" stroke="#1a1a1a" stroke-width="0.26" textLength="5.6" lengthAdjust="spacingAndGlyphs" text-anchor="start">TR</text>
<path d="M361,287 A19,19 0 0 1 380,306" fill="none" stroke="#444" stroke-width="0.6"/>
<line x1="376" y1="306.5" x2="393" y2="306.5" stroke="#222" stroke-width="1.1"/>
<line x1="376" y1="308.5" x2="393" y2="308.5" stroke="#222" stroke-width="1.1"/>
<rect x="359" y="311" width="18.8" height="4.3" fill="#fff" stroke="#222" stroke-width="1" rx="2.1"/>
<text x="361.3" y="314.6" font-size="4.37" fill="#1a1a1a" stroke="#1a1a1a" stroke-width="0.1" textLength="14.4" lengthAdjust="spacingAndGlyphs" text-anchor="start">L.O.H</text>
<text x="362.2" y="326" font-size="7.18" fill="#1a1a1a" stroke="#1a1a1a" stroke-width="0.26" textLength="23.8" lengthAdjust="spacingAndGlyphs" text-anchor="start">[Carpet]</text>
<text x="390" y="316.5" font-size="6.24" fill="#1a1a1a" stroke="#1a1a1a" stroke-width="0.26" textLength="18" lengthAdjust="spacingAndGlyphs" text-anchor="start">VANITY</text>
<text x="390" y="323" font-size="6.24" fill="#1a1a1a" stroke="#1a1a1a" stroke-width="0.26" textLength="17.7" lengthAdjust="spacingAndGlyphs" text-anchor="start">WASTE</text>
<text x="390" y="329.6" font-size="6.24" fill="#1a1a1a" stroke="#1a1a1a" stroke-width="0.26" textLength="24" lengthAdjust="spacingAndGlyphs" text-anchor="start">IN  STUD</text>
<line x1="394" y1="262" x2="394" y2="309" stroke="#222" stroke-width="1.8"/>
<polygon points="394,295 397,301 392.5,300" fill="#111" stroke="none" stroke-width="0"/>
<polyline points="393.2,261.8 446,261.8 446,313.2 393.2,313.2 393.2,261.8" fill="none" stroke="#1a1a1a" stroke-width="2" stroke-dasharray="4.2,2.4"/>
<line x1="418.3" y1="193.3" x2="414.3" y2="258" stroke="#444" stroke-width="0.6" stroke-dasharray="3,1.5"/>
<line x1="418.3" y1="193.5" x2="430" y2="193.5" stroke="#444" stroke-width="0.6"/>
<polygon points="412.6,256 416,256 414.3,262.5" fill="#111" stroke="none" stroke-width="0"/>
<text x="395" y="269.2" font-size="6.45" fill="#1a1a1a" stroke="#1a1a1a" stroke-width="0.26" textLength="24.8" lengthAdjust="spacingAndGlyphs" text-anchor="start">1390w  x</text>
<text x="409.8" y="276" font-size="6.45" fill="#1a1a1a" stroke="#1a1a1a" stroke-width="0.26" textLength="10" lengthAdjust="spacingAndGlyphs" text-anchor="start">70d</text>
<text x="395" y="282.3" font-size="6.45" fill="#1a1a1a" stroke="#1a1a1a" stroke-width="0.26" textLength="24.8" lengthAdjust="spacingAndGlyphs" text-anchor="start">SHELF  @</text>
<text x="397.8" y="289.2" font-size="6.45" fill="#1a1a1a" stroke="#1a1a1a" stroke-width="0.26" textLength="22" lengthAdjust="spacingAndGlyphs" text-anchor="start">1200ffl.</text>
<line x1="422.5" y1="262" x2="422.5" y2="290" stroke="#222" stroke-width="0.9"/>
<line x1="402.7" y1="290.5" x2="422.6" y2="290.5" stroke="#222" stroke-width="0.9"/>
<path d="M402.7,290 A20.6,20.6 0 0 0 423.3,310.6" fill="none" stroke="#444" stroke-width="0.6"/>
<line x1="402.7" y1="310" x2="423" y2="310" stroke="#999" stroke-width="1.5"/>
<polyline points="422,270 427.6,270 440.5,285" fill="none" stroke="#444" stroke-width="0.6"/>
<polygon points="442.4,287 438.14,284.08 440.1,282.37" fill="#111" stroke="none" stroke-width="0"/>
<line x1="410" y1="313" x2="441" y2="325.5" stroke="#444" stroke-width="0.6"/>
<polygon points="443.5,326.5 438.37,325.85 439.34,323.44" fill="#111" stroke="none" stroke-width="0"/>
<line x1="405" y1="302" x2="420" y2="311" stroke="#666" stroke-width="0.6"/>
<line x1="394" y1="302.5" x2="405" y2="302.5" stroke="#666" stroke-width="0.6"/>
<line x1="453.7" y1="226.5" x2="519" y2="226.5" stroke="#222" stroke-width="1.1"/>
<line x1="453.7" y1="228.5" x2="519" y2="228.5" stroke="#222" stroke-width="1.1"/>
<line x1="453.5" y1="226" x2="453.5" y2="256.7" stroke="#222" stroke-width="1.2"/>
<line x1="455.5" y1="226" x2="455.5" y2="256.7" stroke="#222" stroke-width="1.2"/>
<line x1="455" y1="255" x2="494" y2="255" stroke="#333" stroke-width="2"/>
<line x1="461.5" y1="228.3" x2="461.5" y2="282.6" stroke="#777" stroke-width="0.7"/>
<line x1="467.5" y1="228.3" x2="467.5" y2="282.6" stroke="#777" stroke-width="0.7"/>
<line x1="474.5" y1="228.3" x2="474.5" y2="282.6" stroke="#777" stroke-width="0.7"/>
<line x1="480.5" y1="228.3" x2="480.5" y2="282.6" stroke="#777" stroke-width="0.7"/>
<line x1="486.5" y1="228.3" x2="486.5" y2="282.6" stroke="#777" stroke-width="0.7"/>
<line x1="492.5" y1="228.3" x2="492.5" y2="282.6" stroke="#777" stroke-width="0.7"/>
<rect x="455.7" y="241" width="49.9" height="28.6" fill="none" stroke="#999" stroke-width="0.6"/>
<polyline points="460,265.5 455.8,270 460,274.5" fill="none" stroke="#888" stroke-width="0.6"/>
<text x="457.1" y="234.2" font-size="6.03" fill="#1a1a1a" stroke="#1a1a1a" stroke-width="0.26" textLength="3.2" lengthAdjust="spacingAndGlyphs" text-anchor="start">3</text>
<text x="462.9" y="234.2" font-size="6.03" fill="#1a1a1a" stroke="#1a1a1a" stroke-width="0.26" textLength="3.2" lengthAdjust="spacingAndGlyphs" text-anchor="start">4</text>
<text x="469.2" y="234.2" font-size="6.03" fill="#1a1a1a" stroke="#1a1a1a" stroke-width="0.26" textLength="3.2" lengthAdjust="spacingAndGlyphs" text-anchor="start">5</text>
<text x="475.4" y="234.2" font-size="6.03" fill="#1a1a1a" stroke="#1a1a1a" stroke-width="0.26" textLength="3.2" lengthAdjust="spacingAndGlyphs" text-anchor="start">6</text>
<text x="481.7" y="234.2" font-size="6.03" fill="#1a1a1a" stroke="#1a1a1a" stroke-width="0.26" textLength="3.2" lengthAdjust="spacingAndGlyphs" text-anchor="start">7</text>
<text x="488.2" y="234.2" font-size="6.03" fill="#1a1a1a" stroke="#1a1a1a" stroke-width="0.26" textLength="3.2" lengthAdjust="spacingAndGlyphs" text-anchor="start">8</text>
<text x="494.4" y="234.2" font-size="6.03" fill="#1a1a1a" stroke="#1a1a1a" stroke-width="0.26" textLength="3.2" lengthAdjust="spacingAndGlyphs" text-anchor="start">9</text>
<text x="449.9" y="281" font-size="6.03" fill="#1a1a1a" stroke="#1a1a1a" stroke-width="0.26" textLength="49.2" lengthAdjust="spacingAndGlyphs" text-anchor="start">17161514131211  10</text>
<text x="470" y="217" font-size="6.24" fill="#1a1a1a" stroke="#1a1a1a" stroke-width="0.26" textLength="19.2" lengthAdjust="spacingAndGlyphs" text-anchor="start">1020H</text>
<text x="470" y="223.7" font-size="6.24" fill="#1a1a1a" stroke="#1a1a1a" stroke-width="0.26" textLength="35.8" lengthAdjust="spacingAndGlyphs" text-anchor="start">BALUSTRADE</text>
<text x="0" y="0" font-size="6.48" fill="#1a1a1a" stroke="#1a1a1a" stroke-width="0.26" textLength="18" lengthAdjust="spacingAndGlyphs" transform="translate(444.57 251.3) rotate(-90)">1020H</text>
<text x="0" y="0" font-size="6.48" fill="#1a1a1a" stroke="#1a1a1a" stroke-width="0.26" textLength="35.3" lengthAdjust="spacingAndGlyphs" transform="translate(450.57 251.3) rotate(-90)">BALUSTRADE</text>
<text x="434" y="185.6" font-size="6.76" fill="#1a1a1a" stroke="#1a1a1a" stroke-width="0.26" textLength="72" lengthAdjust="spacingAndGlyphs" text-anchor="start">ALLOCATION  SPACE  FOR</text>
<text x="434" y="192.4" font-size="6.76" fill="#1a1a1a" stroke="#1a1a1a" stroke-width="0.26" textLength="69" lengthAdjust="spacingAndGlyphs" text-anchor="start">A/C  FAN  COIL  UNIT  IN</text>
<text x="434" y="199.2" font-size="6.76" fill="#1a1a1a" stroke="#1a1a1a" stroke-width="0.26" textLength="76" lengthAdjust="spacingAndGlyphs" text-anchor="start">ROOF  SPACE,  2000mm  x</text>
<text x="434" y="206" font-size="6.76" fill="#1a1a1a" stroke="#1a1a1a" stroke-width="0.26" textLength="70" lengthAdjust="spacingAndGlyphs" text-anchor="start">2000mm  CLEAR  SPACE</text>
<text x="0" y="0" font-size="6.3" fill="#1a1a1a" stroke="#1a1a1a" stroke-width="0.26" textLength="16" lengthAdjust="spacingAndGlyphs" transform="translate(428.5 241.3) rotate(-90)">SQ.SET</text>
<circle cx="427" cy="250" r="5" fill="none" stroke="#222" stroke-width="0.7"/>
<text x="424" y="252" font-size="5.2" fill="#1a1a1a" stroke="#1a1a1a" stroke-width="0.26" textLength="6" lengthAdjust="spacingAndGlyphs" text-anchor="start">RV</text>
<line x1="423.7" y1="223.5" x2="429" y2="223.5" stroke="#222" stroke-width="0.9"/>
<line x1="421.5" y1="228" x2="421.5" y2="262" stroke="#999" stroke-width="0.6"/>
<line x1="423.5" y1="228" x2="423.5" y2="262" stroke="#999" stroke-width="0.6"/>
<text x="447.4" y="148" font-size="10.5" fill="#1a1a1a" stroke="#1a1a1a" stroke-width="0.1" textLength="40.2" lengthAdjust="spacingAndGlyphs" text-anchor="start">Rumpus</text>
<text x="460" y="159" font-size="7.18" fill="#1a1a1a" stroke="#1a1a1a" stroke-width="0.26" textLength="23" lengthAdjust="spacingAndGlyphs" text-anchor="start">[Carpet]</text>
<polygon points="473,105 485,117 473,128.5" fill="#111" stroke="none" stroke-width="0"/>
<circle cx="473" cy="117" r="7.9" fill="#fff" stroke="#222" stroke-width="0.8"/>
<line x1="465.5" y1="117.5" x2="480.5" y2="117.5" stroke="#aaa" stroke-width="1.1"/>
<text x="470.9" y="114.3" font-size="5.2" fill="#777" stroke="#777" stroke-width="0.1" textLength="4.2" lengthAdjust="spacingAndGlyphs" text-anchor="start">H</text>
<text x="469.6" y="122.3" font-size="5.62" fill="#1a1a1a" stroke="#1a1a1a" stroke-width="0.26" textLength="6.8" lengthAdjust="spacingAndGlyphs" text-anchor="start">21</text>
<line x1="473.5" y1="97.4" x2="473.5" y2="105" stroke="#222" stroke-width="0.8"/>
<text x="490.4" y="115" font-size="6.34" fill="#1a1a1a" stroke="#1a1a1a" stroke-width="0.26" textLength="21.5" lengthAdjust="spacingAndGlyphs" text-anchor="start">130mm</text>
<text x="490.4" y="122.5" font-size="6.34" fill="#1a1a1a" stroke="#1a1a1a" stroke-width="0.26" textLength="24.6" lengthAdjust="spacingAndGlyphs" text-anchor="start">S/DOWN</text>
<line x1="421" y1="282.5" x2="519.6" y2="282.5" stroke="#333" stroke-width="1.3"/>
<line x1="421" y1="284.5" x2="519.6" y2="284.5" stroke="#333" stroke-width="1.3"/>
<line x1="434.5" y1="283" x2="434.5" y2="365" stroke="#222" stroke-width="1.1"/>
<line x1="435.5" y1="283" x2="435.5" y2="365" stroke="#222" stroke-width="1.1"/>
<line x1="426.5" y1="290" x2="426.5" y2="340" stroke="#aaa" stroke-width="0.6"/>
<line x1="437.5" y1="284.8" x2="437.5" y2="310.3" stroke="#c2c2c2" stroke-width="1"/>
<line x1="442.5" y1="284.8" x2="442.5" y2="310.3" stroke="#c2c2c2" stroke-width="1"/>
<line x1="448.5" y1="284.8" x2="448.5" y2="310.3" stroke="#c2c2c2" stroke-width="1"/>
<line x1="453.5" y1="284.8" x2="453.5" y2="310.3" stroke="#c2c2c2" stroke-width="1"/>
<line x1="459.5" y1="284.8" x2="459.5" y2="310.3" stroke="#c2c2c2" stroke-width="1"/>
<line x1="465.5" y1="284.8" x2="465.5" y2="310.3" stroke="#c2c2c2" stroke-width="1"/>
<line x1="470.5" y1="284.8" x2="470.5" y2="310.3" stroke="#c2c2c2" stroke-width="1"/>
<line x1="435.6" y1="287.5" x2="472.6" y2="287.5" stroke="#c2c2c2" stroke-width="1"/>
<line x1="435.6" y1="292.5" x2="472.6" y2="292.5" stroke="#c2c2c2" stroke-width="1"/>
<line x1="435.6" y1="298.5" x2="472.6" y2="298.5" stroke="#c2c2c2" stroke-width="1"/>
<line x1="435.6" y1="303.5" x2="472.6" y2="303.5" stroke="#c2c2c2" stroke-width="1"/>
<line x1="435.6" y1="309.5" x2="472.6" y2="309.5" stroke="#c2c2c2" stroke-width="1"/>
<text x="0" y="0" font-size="6.3" fill="#1a1a1a" stroke="#1a1a1a" stroke-width="0.26" textLength="13.4" lengthAdjust="spacingAndGlyphs" transform="translate(452.2 306.7) rotate(-90)">FALL</text>
<line x1="455.5" y1="290" x2="455.5" y2="297" stroke="#222" stroke-width="1.2"/>
<circle cx="455.5" cy="289" r="0.9" fill="none" stroke="#222" stroke-width="0.5"/>
<line x1="435.6" y1="310" x2="475" y2="310" stroke="#222" stroke-width="1.4"/>
<line x1="472.5" y1="284.8" x2="472.5" y2="311" stroke="#222" stroke-width="1.1"/>
<line x1="474.5" y1="284.8" x2="474.5" y2="311" stroke="#222" stroke-width="1.1"/>
<line x1="477.5" y1="284.8" x2="477.5" y2="310.8" stroke="#c2c2c2" stroke-width="1"/>
<line x1="482.5" y1="284.8" x2="482.5" y2="310.8" stroke="#c2c2c2" stroke-width="1"/>
<line x1="488.5" y1="284.8" x2="488.5" y2="310.8" stroke="#c2c2c2" stroke-width="1"/>
<line x1="493.5" y1="284.8" x2="493.5" y2="310.8" stroke="#c2c2c2" stroke-width="1"/>
<line x1="499.5" y1="284.8" x2="499.5" y2="310.8" stroke="#c2c2c2" stroke-width="1"/>
<line x1="505.5" y1="284.8" x2="505.5" y2="310.8" stroke="#c2c2c2" stroke-width="1"/>
<line x1="510.5" y1="284.8" x2="510.5" y2="310.8" stroke="#c2c2c2" stroke-width="1"/>
<line x1="516.5" y1="284.8" x2="516.5" y2="310.8" stroke="#c2c2c2" stroke-width="1"/>
<line x1="474.8" y1="287.5" x2="519.6" y2="287.5" stroke="#c2c2c2" stroke-width="1"/>
<line x1="474.8" y1="292.5" x2="519.6" y2="292.5" stroke="#c2c2c2" stroke-width="1"/>
<line x1="474.8" y1="298.5" x2="519.6" y2="298.5" stroke="#c2c2c2" stroke-width="1"/>
<line x1="474.8" y1="303.5" x2="519.6" y2="303.5" stroke="#c2c2c2" stroke-width="1"/>
<line x1="474.8" y1="309.5" x2="519.6" y2="309.5" stroke="#c2c2c2" stroke-width="1"/>
<line x1="494.3" y1="310.5" x2="519.6" y2="310.5" stroke="#222" stroke-width="1.1"/>
<line x1="494.3" y1="312.5" x2="519.6" y2="312.5" stroke="#222" stroke-width="1.1"/>
<text x="484.5" y="300.5" font-size="10" fill="#1a1a1a" stroke="#1a1a1a" stroke-width="0.1" textLength="16.8" lengthAdjust="spacingAndGlyphs" text-anchor="start">WC</text>
<text x="496.4" y="291.3" font-size="5.82" fill="#1a1a1a" stroke="#1a1a1a" stroke-width="0.26" textLength="9.8" lengthAdjust="spacingAndGlyphs" text-anchor="start">TRH</text>
<path d="M512.1,292.4 H506.8 A5,4.85 0 0 0 506.8,302.1 H512.1 Z" fill="#fff" stroke="#333" stroke-width="0.8"/>
<rect x="512.1" y="292.4" width="6.5" height="9.7" fill="#fff" stroke="#333" stroke-width="0.8"/>
<line x1="515.5" y1="295" x2="515.5" y2="299" stroke="#333" stroke-width="1.2"/>
<text x="0" y="0" font-size="6.3" fill="#1a1a1a" stroke="#1a1a1a" stroke-width="0.26" textLength="10.3" lengthAdjust="spacingAndGlyphs" transform="translate(482.9 305.9) rotate(-90)">720</text>
<path d="M477.5,291.8 Q488,298 494.3,311" fill="none" stroke="#444" stroke-width="0.6"/>
<rect x="475" y="314.4" width="18.6" height="4.9" fill="#fff" stroke="#222" stroke-width="1" rx="2.4"/>
<text x="477.4" y="318.6" font-size="4.58" fill="#1a1a1a" stroke="#1a1a1a" stroke-width="0.1" textLength="13.8" lengthAdjust="spacingAndGlyphs" text-anchor="start">L.O.H</text>
<line x1="451.5" y1="310.3" x2="451.5" y2="364.6" stroke="#c2c2c2" stroke-width="1"/>
<line x1="456.5" y1="310.3" x2="456.5" y2="364.6" stroke="#c2c2c2" stroke-width="1"/>
<line x1="462.5" y1="310.3" x2="462.5" y2="364.6" stroke="#c2c2c2" stroke-width="1"/>
<line x1="467.5" y1="310.3" x2="467.5" y2="364.6" stroke="#c2c2c2" stroke-width="1"/>
<line x1="473.5" y1="310.3" x2="473.5" y2="364.6" stroke="#c2c2c2" stroke-width="1"/>
<line x1="478.5" y1="310.3" x2="478.5" y2="364.6" stroke="#c2c2c2" stroke-width="1"/>
<line x1="484.5" y1="310.3" x2="484.5" y2="364.6" stroke="#c2c2c2" stroke-width="1"/>
<line x1="489.5" y1="310.3" x2="489.5" y2="364.6" stroke="#c2c2c2" stroke-width="1"/>
<line x1="495.5" y1="310.3" x2="495.5" y2="364.6" stroke="#c2c2c2" stroke-width="1"/>
<line x1="449.6" y1="315.5" x2="495" y2="315.5" stroke="#c2c2c2" stroke-width="1"/>
<line x1="449.6" y1="320.5" x2="495" y2="320.5" stroke="#c2c2c2" stroke-width="1"/>
<line x1="449.6" y1="326.5" x2="495" y2="326.5" stroke="#c2c2c2" stroke-width="1"/>
<line x1="449.6" y1="331.5" x2="495" y2="331.5" stroke="#c2c2c2" stroke-width="1"/>
<line x1="449.6" y1="337.5" x2="495" y2="337.5" stroke="#c2c2c2" stroke-width="1"/>
<line x1="449.6" y1="342.5" x2="495" y2="342.5" stroke="#c2c2c2" stroke-width="1"/>
<line x1="449.6" y1="348.5" x2="495" y2="348.5" stroke="#c2c2c2" stroke-width="1"/>
<line x1="449.6" y1="353.5" x2="495" y2="353.5" stroke="#c2c2c2" stroke-width="1"/>
<line x1="449.6" y1="359.5" x2="495" y2="359.5" stroke="#c2c2c2" stroke-width="1"/>
<path d="M473,311 A14,14 0 0 1 463.3,325.4" fill="none" stroke="#444" stroke-width="0.6"/>
<line x1="451.6" y1="311" x2="468" y2="320.6" stroke="#444" stroke-width="0.6"/>
<text x="464.7" y="337.8" font-size="10.5" fill="#1a1a1a" stroke="#1a1a1a" stroke-width="0.1" textLength="20.6" lengthAdjust="spacingAndGlyphs" text-anchor="start">Ens.</text>
<text x="481.9" y="358.5" font-size="6.24" fill="#1a1a1a" stroke="#1a1a1a" stroke-width="0.26" textLength="9.6" lengthAdjust="spacingAndGlyphs" text-anchor="start">I/O</text>
<circle cx="490.5" cy="360.8" r="0.8" fill="none" stroke="#222" stroke-width="0.5"/>
<line x1="495.5" y1="311" x2="495.5" y2="364.6" stroke="#222" stroke-width="1.1"/>
<rect x="496.3" y="315.8" width="22" height="44.7" fill="#fff" stroke="#222" stroke-width="1"/>
<rect x="498" y="317" width="19" height="42.2" fill="none" stroke="#c8c8c8" stroke-width="1.8"/>
<rect x="499.8" y="317.9" width="16.5" height="39.9" fill="#fff" stroke="#555" stroke-width="0.8"/>
<rect x="501.2" y="322.7" width="12.3" height="32.3" fill="#fff" stroke="#777" stroke-width="0.6"/>
<text x="0" y="0" font-size="6.696000000000001" fill="#1a1a1a" stroke="#1a1a1a" stroke-width="0.26" textLength="17" lengthAdjust="spacingAndGlyphs" transform="translate(506.74 345) rotate(-90)">METRO</text>
<text x="0" y="0" font-size="6.696000000000001" fill="#1a1a1a" stroke="#1a1a1a" stroke-width="0.26" textLength="13.6" lengthAdjust="spacingAndGlyphs" transform="translate(512.04 344) rotate(-90)">1650</text>
<circle cx="507.2" cy="352.3" r="1.1" fill="#111" stroke="none" stroke-width="0"/>
<rect x="435.6" y="310.3" width="14" height="54.3" fill="none" stroke="#666" stroke-width="0.7"/>
<rect x="437.2" y="319.3" width="11.7" height="11" fill="#fff" stroke="#222" stroke-width="1"/>
<rect x="439" y="321.1" width="8" height="7.4" fill="#fff" stroke="#666" stroke-width="0.6"/>
<rect x="437.2" y="345.4" width="11.7" height="11" fill="#fff" stroke="#222" stroke-width="1"/>
<rect x="439" y="347.2" width="8" height="7.4" fill="#fff" stroke="#666" stroke-width="0.6"/>
<line x1="424.5" y1="300" x2="424.5" y2="348" stroke="#888" stroke-width="0.6"/>
<text x="0" y="0" font-size="6.3" fill="#1a1a1a" stroke="#1a1a1a" stroke-width="0.26" textLength="15" lengthAdjust="spacingAndGlyphs" transform="translate(432.2 344) rotate(-90)">LINEN</text>
<line x1="424.3" y1="354.5" x2="434" y2="354.5" stroke="#222" stroke-width="1.1"/>
<line x1="424.3" y1="356.5" x2="434" y2="356.5" stroke="#222" stroke-width="1.1"/>
<rect x="424.3" y="356.1" width="9.7" height="8.5" fill="none" stroke="#222" stroke-width="1"/>
<line x1="424" y1="348" x2="424" y2="421" stroke="#333" stroke-width="2"/>
<line x1="402.8" y1="348" x2="423" y2="348" stroke="#888" stroke-width="1.8"/>
<path d="M402.8,347.8 A20.2,20.2 0 0 1 423,327.6" fill="none" stroke="#444" stroke-width="0.6"/>
<circle cx="406" cy="355.6" r="4.6" fill="none" stroke="#222" stroke-width="0.8"/>
<text x="403.5" y="358.4" font-size="8.22" fill="#1a1a1a" stroke="#1a1a1a" stroke-width="0.25" textLength="5" lengthAdjust="spacingAndGlyphs" text-anchor="start">S</text>
<text x="0" y="0" font-size="6.48" fill="#1a1a1a" stroke="#1a1a1a" stroke-width="0.26" textLength="20.6" lengthAdjust="spacingAndGlyphs" transform="translate(419.97 336.6) rotate(-90)">3/720</text>
<line x1="420" y1="310" x2="457" y2="358" stroke="#555" stroke-width="0.6" stroke-dasharray="10,3"/>
<line x1="369.9" y1="335" x2="392.7" y2="335" stroke="#888" stroke-width="1.8"/>
<text x="376.3" y="341.8" font-size="6.55" fill="#1a1a1a" stroke="#1a1a1a" stroke-width="0.26" textLength="10.6" lengthAdjust="spacingAndGlyphs" text-anchor="start">820</text>
<path d="M369.9,335 A22.8,22.8 0 0 0 392.7,357.8" fill="none" stroke="#444" stroke-width="0.6"/>
<circle cx="365.6" cy="347.6" r="4.6" fill="none" stroke="#222" stroke-width="0.8"/>
<text x="363.1" y="350.4" font-size="8.22" fill="#1a1a1a" stroke="#1a1a1a" stroke-width="0.25" textLength="5" lengthAdjust="spacingAndGlyphs" text-anchor="start">S</text>
<text x="312.5" y="378.3" font-size="11.4" fill="#1a1a1a" stroke="#1a1a1a" stroke-width="0.1" textLength="27.5" lengthAdjust="spacingAndGlyphs" text-anchor="start">Bed 4</text>
<text x="314" y="387" font-size="7.18" fill="#1a1a1a" stroke="#1a1a1a" stroke-width="0.26" textLength="24" lengthAdjust="spacingAndGlyphs" text-anchor="start">[Carpet]</text>
<line x1="285.8" y1="416.7" x2="390" y2="316" stroke="#555" stroke-width="0.6" stroke-dasharray="10,3"/>
<line x1="392" y1="356" x2="392" y2="421" stroke="#222" stroke-width="2"/>
<line x1="374.4" y1="363.5" x2="391" y2="363.5" stroke="#222" stroke-width="1.1"/>
<line x1="374.4" y1="364.5" x2="391" y2="364.5" stroke="#222" stroke-width="1.1"/>
<line x1="374.5" y1="363.1" x2="374.5" y2="367.5" stroke="#222" stroke-width="1"/>
<line x1="379.5" y1="367" x2="379.5" y2="418.5" stroke="#777" stroke-width="0.6"/>
<line x1="358.75" y1="368" x2="374.4" y2="368" stroke="#888" stroke-width="1.8"/>
<line x1="358.75" y1="400" x2="376.25" y2="400" stroke="#888" stroke-width="1.8"/>
<line x1="358.75" y1="418" x2="376" y2="418" stroke="#888" stroke-width="1.8"/>
<path d="M358.75,368 A15.6,15.1 0 0 0 374.4,383.1" fill="none" stroke="#444" stroke-width="0.6"/>
<path d="M359,398 A16,15 0 0 1 374.4,383.1" fill="none" stroke="#444" stroke-width="0.6"/>
<path d="M376.25,400 A17.5,17 0 0 0 358.75,417" fill="none" stroke="#444" stroke-width="0.6"/>
<text x="0" y="0" font-size="6.48" fill="#1a1a1a" stroke="#1a1a1a" stroke-width="0.26" textLength="19.35" lengthAdjust="spacingAndGlyphs" transform="translate(359.17 405.6) rotate(-90)">3/620</text>
<text x="0" y="0" font-size="6.3" fill="#1a1a1a" stroke="#1a1a1a" stroke-width="0.26" textLength="15" lengthAdjust="spacingAndGlyphs" transform="translate(387.81 400.6) rotate(-90)">ROBE</text>
<line x1="282.6" y1="418.5" x2="394" y2="418.5" stroke="#222" stroke-width="1.1"/>
<line x1="285" y1="421.5" x2="394" y2="421.5" stroke="#222" stroke-width="1.1"/>
<rect x="304" y="418.6" width="64" height="2.4" fill="#bbb" stroke="none" stroke-width="0"/>
<line x1="325.5" y1="418.3" x2="325.5" y2="421.3" stroke="#666" stroke-width="0.6"/>
<line x1="350.5" y1="418.3" x2="350.5" y2="421.3" stroke="#666" stroke-width="0.6"/>
<line x1="304.5" y1="417.5" x2="304.5" y2="422" stroke="#222" stroke-width="1.2"/>
<line x1="368.5" y1="417.5" x2="368.5" y2="422" stroke="#222" stroke-width="1.2"/>
<text x="327.4" y="427.9" font-size="6.45" fill="#1a1a1a" stroke="#1a1a1a" stroke-width="0.26" textLength="21" lengthAdjust="spacingAndGlyphs" text-anchor="start">SA1527</text>
<text x="323.9" y="434" font-size="6.45" fill="#1a1a1a" stroke="#1a1a1a" stroke-width="0.26" textLength="22.7" lengthAdjust="spacingAndGlyphs" text-anchor="start">SPECIAL</text>
<line x1="424" y1="364.5" x2="457.8" y2="364.5" stroke="#222" stroke-width="1.1"/>
<line x1="424" y1="366.5" x2="457.8" y2="366.5" stroke="#222" stroke-width="1.1"/>
<line x1="480.5" y1="364.5" x2="519.6" y2="364.5" stroke="#222" stroke-width="1.1"/>
<line x1="480.5" y1="366.5" x2="519.6" y2="366.5" stroke="#222" stroke-width="1.1"/>
<line x1="457" y1="364.6" x2="457" y2="381" stroke="#222" stroke-width="1.4"/>
<line x1="457" y1="403" x2="457" y2="420" stroke="#222" stroke-width="1.4"/>
<line x1="481" y1="364.6" x2="481" y2="381" stroke="#222" stroke-width="1.4"/>
<line x1="481" y1="403" x2="481" y2="420" stroke="#222" stroke-width="1.4"/>
<rect x="457.5" y="364.6" width="22.8" height="55.4" fill="url(#dots)"/>
<line x1="456.5" y1="364.6" x2="456.5" y2="420" stroke="#444" stroke-width="0.8"/>
<line x1="480.5" y1="364.6" x2="480.5" y2="420" stroke="#444" stroke-width="0.8"/>
<line x1="421.5" y1="419.5" x2="519.6" y2="419.5" stroke="#222" stroke-width="1.1"/>
<line x1="421.5" y1="421.5" x2="519.6" y2="421.5" stroke="#222" stroke-width="1.1"/>
<polyline points="385,418.5 398.5,418.5" fill="none" stroke="#222" stroke-width="1.1"/>
<line x1="392" y1="421.5" x2="398.5" y2="421.5" stroke="#222" stroke-width="1.1"/>
<text x="431.7" y="390" font-size="11" fill="#1a1a1a" stroke="#1a1a1a" stroke-width="0.1" textLength="20" lengthAdjust="spacingAndGlyphs" text-anchor="start">WIR</text>
<text x="430" y="397.5" font-size="7.18" fill="#1a1a1a" stroke="#1a1a1a" stroke-width="0.26" textLength="23.3" lengthAdjust="spacingAndGlyphs" text-anchor="start">[Carpet]</text>
<text x="488" y="390" font-size="11" fill="#1a1a1a" stroke="#1a1a1a" stroke-width="0.1" textLength="20" lengthAdjust="spacingAndGlyphs" text-anchor="start">WIR</text>
<text x="482.5" y="397.5" font-size="7.18" fill="#1a1a1a" stroke="#1a1a1a" stroke-width="0.26" textLength="23.8" lengthAdjust="spacingAndGlyphs" text-anchor="start">[Carpet]</text>
<polyline points="457,377.5 430,377.5 430,403.3 457,403.3" fill="none" stroke="#aaa" stroke-width="0.6"/>
<polyline points="481,377.5 507.5,377.5 507.5,403.3 481,403.3" fill="none" stroke="#aaa" stroke-width="0.6"/>
<rect x="505" y="405" width="14" height="14" fill="#fff" stroke="#222" stroke-width="1.1"/>
<circle cx="515.3" cy="409.4" r="3.3" fill="#111" stroke="none" stroke-width="0"/>
<circle cx="509.2" cy="415" r="3.3" fill="#111" stroke="none" stroke-width="0"/>
<line x1="470.5" y1="421.5" x2="470.5" y2="433.3" stroke="#222" stroke-width="0.7"/>
<polygon points="469.2,428 470.8,421.5 472.4,428" fill="#111" stroke="none" stroke-width="0"/>
<text x="476" y="436.7" font-size="6.34" fill="#1a1a1a" stroke="#1a1a1a" stroke-width="0.26" textLength="27" lengthAdjust="spacingAndGlyphs" text-anchor="start">DROPPED</text>
<text x="480.8" y="443.3" font-size="6.34" fill="#1a1a1a" stroke="#1a1a1a" stroke-width="0.26" textLength="22.2" lengthAdjust="spacingAndGlyphs" text-anchor="start">CEILING</text>
<rect x="395" y="421" width="3.2" height="126.3" fill="#e6e6e6" stroke="#222" stroke-width="0.9"/>
<line x1="400" y1="421" x2="400" y2="442" stroke="#999" stroke-width="1.8"/>
<text x="0" y="0" font-size="6.696000000000001" fill="#1a1a1a" stroke="#1a1a1a" stroke-width="0.26" textLength="10.5" lengthAdjust="spacingAndGlyphs" transform="translate(406.34 435.5) rotate(-90)">820</text>
<path d="M400.5,442 A21.5,21.5 0 0 0 421.5,420.5" fill="none" stroke="#444" stroke-width="0.6"/>
<circle cx="417.5" cy="442.5" r="4.5" fill="none" stroke="#222" stroke-width="0.8"/>
<text x="415" y="445.3" font-size="8.22" fill="#1a1a1a" stroke="#1a1a1a" stroke-width="0.25" textLength="5" lengthAdjust="spacingAndGlyphs" text-anchor="start">S</text>
<text x="441.2" y="478.5" font-size="11.4" fill="#1a1a1a" stroke="#1a1a1a" stroke-width="0.1" textLength="28.1" lengthAdjust="spacingAndGlyphs" text-anchor="start">Bed 1</text>
<text x="445" y="487" font-size="7.18" fill="#1a1a1a" stroke="#1a1a1a" stroke-width="0.26" textLength="23.75" lengthAdjust="spacingAndGlyphs" text-anchor="start">[Carpet]</text>
<line x1="449.6" y1="488.6" x2="502.5" y2="543.6" stroke="#555" stroke-width="0.6" stroke-dasharray="10,3"/>
<line x1="461.3" y1="486.5" x2="517.7" y2="542.9" stroke="#555" stroke-width="0.6" stroke-dasharray="10,3"/>
<line x1="457.5" y1="421.3" x2="457.5" y2="484" stroke="#999" stroke-width="0.6" stroke-dasharray="10,3,2,3"/>
<polyline points="432.4,543 449.7,524.3 466,543" fill="none" stroke="#555" stroke-width="0.6" stroke-dasharray="5,3"/>
<line x1="449.5" y1="489" x2="449.5" y2="524" stroke="#888" stroke-width="0.6" stroke-dasharray="5,3"/>
<polygon points="469.5,509.9 481.2,520.2 469.5,531.2" fill="#111" stroke="none" stroke-width="0"/>
<circle cx="469.5" cy="520.2" r="7.6" fill="#fff" stroke="#222" stroke-width="0.8"/>
<line x1="462" y1="520.5" x2="477" y2="520.5" stroke="#aaa" stroke-width="1.1"/>
<text x="467.4" y="518" font-size="5.82" fill="#666" stroke="#666" stroke-width="0.1" textLength="4.2" lengthAdjust="spacingAndGlyphs" text-anchor="start">G</text>
<text x="466.2" y="527.5" font-size="6.03" fill="#1a1a1a" stroke="#1a1a1a" stroke-width="0.26" textLength="6.6" lengthAdjust="spacingAndGlyphs" text-anchor="start">20</text>
<line x1="469.5" y1="531.5" x2="469.5" y2="544" stroke="#888" stroke-width="0.8"/>
<line x1="394.6" y1="543.5" x2="524" y2="543.5" stroke="#222" stroke-width="1.1"/>
<line x1="397.4" y1="547.5" x2="524" y2="547.5" stroke="#222" stroke-width="1.1"/>
<rect x="412" y="544.2" width="91" height="2.8" fill="#bbb" stroke="none" stroke-width="0"/>
<polygon points="435.8,541.6 442.7,539.3 442.7,541.6" fill="#111" stroke="none" stroke-width="0"/>
<polygon points="463.3,541.6 456.5,539.3 456.5,541.6" fill="#111" stroke="none" stroke-width="0"/>
<line x1="267" y1="437" x2="283" y2="421.3" stroke="#555" stroke-width="0.6"/>
<line x1="267" y1="437.5" x2="376.4" y2="437.5" stroke="#888" stroke-width="0.8" stroke-dasharray="10,3"/>
<line x1="376.4" y1="437" x2="394" y2="421.3" stroke="#555" stroke-width="0.6"/>
<line x1="394" y1="421.3" x2="457" y2="358" stroke="#555" stroke-width="0.6" stroke-dasharray="10,3"/>
<line x1="377.5" y1="437" x2="377.5" y2="600" stroke="#888" stroke-width="0.8" stroke-dasharray="10,3"/>
<line x1="263" y1="472.5" x2="281" y2="472.5" stroke="#222" stroke-width="0.7"/>
<polygon points="262,472 268,470.3 268,473.7" fill="#111" stroke="none" stroke-width="0"/>
<text x="265" y="480" font-size="6.24" fill="#1a1a1a" stroke="#1a1a1a" stroke-width="0.26" textLength="5" lengthAdjust="spacingAndGlyphs" text-anchor="start">3'</text>
<text x="265" y="486" font-size="6.24" fill="#1a1a1a" stroke="#1a1a1a" stroke-width="0.26" textLength="17" lengthAdjust="spacingAndGlyphs" text-anchor="start">PITCH</text>
<rect x="301" y="468" width="56" height="32" fill="none" stroke="#222" stroke-width="0.9"/>
<text x="305.2" y="475.7" font-size="6.45" fill="#1a1a1a" stroke="#1a1a1a" stroke-width="0.26" textLength="50.2" lengthAdjust="spacingAndGlyphs" text-anchor="start">PROVIDE  100mm</text>
<text x="314.3" y="482.3" font-size="6.45" fill="#1a1a1a" stroke="#1a1a1a" stroke-width="0.26" textLength="41.1" lengthAdjust="spacingAndGlyphs" text-anchor="start">CANTILEVERED</text>
<text x="309.9" y="488.6" font-size="6.45" fill="#1a1a1a" stroke="#1a1a1a" stroke-width="0.26" textLength="45.5" lengthAdjust="spacingAndGlyphs" text-anchor="start">TRUSS  TO  THIS</text>
<text x="323.9" y="495.3" font-size="6.45" fill="#1a1a1a" stroke="#1a1a1a" stroke-width="0.26" textLength="31.5" lengthAdjust="spacingAndGlyphs" text-anchor="start">SIDE  ONLY</text>
<line x1="357" y1="487" x2="373.5" y2="474.5" stroke="#333" stroke-width="0.6"/>
<polygon points="376,472.5 372.43,476.88 370.85,474.82" fill="#111" stroke="none" stroke-width="0"/>
<text x="383.4" y="502.3" font-size="6.24" fill="#1a1a1a" stroke="#1a1a1a" stroke-width="0.26" textLength="8.6" lengthAdjust="spacingAndGlyphs" text-anchor="start">DP</text>
<text x="361.2" y="507.5" font-size="6.24" fill="#1a1a1a" stroke="#1a1a1a" stroke-width="0.26" textLength="29.2" lengthAdjust="spacingAndGlyphs" text-anchor="start">SPREADER</text>
<circle cx="394" cy="505" r="1" fill="none" stroke="#222" stroke-width="0.5"/>
<line x1="260" y1="520.5" x2="395" y2="520.5" stroke="#999" stroke-width="0.8"/>
<line x1="260" y1="527.5" x2="387.8" y2="527.5" stroke="#555" stroke-width="0.8"/>
<line x1="387.5" y1="527.4" x2="387.5" y2="582" stroke="#555" stroke-width="0.8"/>
<line x1="279.5" y1="536" x2="279.5" y2="553" stroke="#222" stroke-width="0.8"/>
<polygon points="275.2,534 276.8,526 278.4,534" fill="#111" stroke="none" stroke-width="0"/>
<line x1="270" y1="544.5" x2="279" y2="544.5" stroke="#222" stroke-width="0.6"/>
<text x="258.5" y="547" font-size="6.24" fill="#1a1a1a" stroke="#1a1a1a" stroke-width="0.26" textLength="10.5" lengthAdjust="spacingAndGlyphs" text-anchor="start">ICK</text>
<text x="258.5" y="552.5" font-size="6.24" fill="#1a1a1a" stroke="#1a1a1a" stroke-width="0.26" textLength="9.5" lengthAdjust="spacingAndGlyphs" text-anchor="start">PET</text>
<polygon points="279,552.5 266,564.4 279,576.5" fill="#111" stroke="none" stroke-width="0"/>
<circle cx="279" cy="564.4" r="8.5" fill="#fff" stroke="#222" stroke-width="0.8"/>
<line x1="271" y1="564.5" x2="287" y2="564.5" stroke="#aaa" stroke-width="1.1"/>
<text x="276.7" y="562.3" font-size="5.41" fill="#666" stroke="#666" stroke-width="0.1" textLength="4.6" lengthAdjust="spacingAndGlyphs" text-anchor="start">C</text>
<text x="275.8" y="570.2" font-size="5.62" fill="#1a1a1a" stroke="#1a1a1a" stroke-width="0.26" textLength="6.4" lengthAdjust="spacingAndGlyphs" text-anchor="start">17</text>
<polygon points="308,565.5 330,565.5 319,577" fill="#111" stroke="none" stroke-width="0"/>
<circle cx="319" cy="564.4" r="8" fill="#fff" stroke="#222" stroke-width="0.8"/>
<line x1="311.5" y1="564.5" x2="326.5" y2="564.5" stroke="#aaa" stroke-width="1.1"/>
<text x="316.7" y="562.3" font-size="5.41" fill="#666" stroke="#666" stroke-width="0.1" textLength="4.6" lengthAdjust="spacingAndGlyphs" text-anchor="start">D</text>
<text x="315.8" y="570.2" font-size="5.62" fill="#1a1a1a" stroke="#1a1a1a" stroke-width="0.26" textLength="6.4" lengthAdjust="spacingAndGlyphs" text-anchor="start">18</text>
<line x1="330" y1="566.5" x2="351" y2="566.5" stroke="#222" stroke-width="0.7"/>
<text x="354" y="558.4" font-size="6.24" fill="#1a1a1a" stroke="#1a1a1a" stroke-width="0.26" textLength="17" lengthAdjust="spacingAndGlyphs" text-anchor="start">CONC,</text>
<text x="351.3" y="565" font-size="6.24" fill="#1a1a1a" stroke="#1a1a1a" stroke-width="0.26" textLength="19.7" lengthAdjust="spacingAndGlyphs" text-anchor="start">TIMBER</text>
<text x="356.9" y="571" font-size="6.24" fill="#1a1a1a" stroke="#1a1a1a" stroke-width="0.26" textLength="14.1" lengthAdjust="spacingAndGlyphs" text-anchor="start">BEAM</text>
<rect x="391.5" y="520" width="3.6" height="31" fill="url(#hv)"/>
<line x1="391.5" y1="520" x2="391.5" y2="551" stroke="#222" stroke-width="1.3"/>
<line x1="395.5" y1="520" x2="395.5" y2="551" stroke="#222" stroke-width="1"/>
<line x1="372" y1="556.5" x2="388" y2="556.5" stroke="#888" stroke-width="0.5"/>
<line x1="377.5" y1="595" x2="384" y2="589" stroke="#555" stroke-width="0.6"/>
<line x1="390.5" y1="545" x2="390.5" y2="582" stroke="#222" stroke-width="0.9"/>
<line x1="393.5" y1="545" x2="393.5" y2="582" stroke="#222" stroke-width="0.9"/>
<polygon points="388,556 393,554.5 393,557.5" fill="#111" stroke="none" stroke-width="0"/>
<line x1="398.5" y1="547.3" x2="398.5" y2="578.8" stroke="#c2c2c2" stroke-width="1"/>
<line x1="404.5" y1="547.3" x2="404.5" y2="578.8" stroke="#c2c2c2" stroke-width="1"/>
<line x1="411.5" y1="547.3" x2="411.5" y2="578.8" stroke="#c2c2c2" stroke-width="1"/>
<line x1="418.5" y1="547.3" x2="418.5" y2="578.8" stroke="#c2c2c2" stroke-width="1"/>
<line x1="425.5" y1="547.3" x2="425.5" y2="578.8" stroke="#c2c2c2" stroke-width="1"/>
<line x1="431.5" y1="547.3" x2="431.5" y2="578.8" stroke="#c2c2c2" stroke-width="1"/>
<line x1="438.5" y1="547.3" x2="438.5" y2="578.8" stroke="#c2c2c2" stroke-width="1"/>
<line x1="445.5" y1="547.3" x2="445.5" y2="578.8" stroke="#c2c2c2" stroke-width="1"/>
<line x1="452.5" y1="547.3" x2="452.5" y2="578.8" stroke="#c2c2c2" stroke-width="1"/>
<line x1="458.5" y1="547.3" x2="458.5" y2="578.8" stroke="#c2c2c2" stroke-width="1"/>
<line x1="465.5" y1="547.3" x2="465.5" y2="578.8" stroke="#c2c2c2" stroke-width="1"/>
<line x1="472.5" y1="547.3" x2="472.5" y2="578.8" stroke="#c2c2c2" stroke-width="1"/>
<line x1="479.5" y1="547.3" x2="479.5" y2="578.8" stroke="#c2c2c2" stroke-width="1"/>
<line x1="485.5" y1="547.3" x2="485.5" y2="578.8" stroke="#c2c2c2" stroke-width="1"/>
<line x1="492.5" y1="547.3" x2="492.5" y2="578.8" stroke="#c2c2c2" stroke-width="1"/>
<line x1="499.5" y1="547.3" x2="499.5" y2="578.8" stroke="#c2c2c2" stroke-width="1"/>
<line x1="395.3" y1="551.5" x2="501.5" y2="551.5" stroke="#c2c2c2" stroke-width="1"/>
<line x1="395.3" y1="558.5" x2="501.5" y2="558.5" stroke="#c2c2c2" stroke-width="1"/>
<line x1="395.3" y1="565.5" x2="501.5" y2="565.5" stroke="#c2c2c2" stroke-width="1"/>
<line x1="395.3" y1="571.5" x2="501.5" y2="571.5" stroke="#c2c2c2" stroke-width="1"/>
<line x1="392.25" y1="579.5" x2="487.6" y2="579.5" stroke="#222" stroke-width="1.3"/>
<line x1="395" y1="579.5" x2="487.6" y2="579.5" stroke="#ddd" stroke-width="0.4" stroke-dasharray="4,6"/>
<line x1="395" y1="581.5" x2="487.6" y2="581.5" stroke="#999" stroke-width="0.6"/>
<line x1="387" y1="585.5" x2="487.6" y2="585.5" stroke="#222" stroke-width="1.1"/>
<line x1="387" y1="587.5" x2="487.6" y2="587.5" stroke="#777" stroke-width="0.6"/>
<rect x="392.6" y="576" width="4.6" height="4.5" fill="#fff" stroke="#222" stroke-width="0.8"/>
<rect x="399.6" y="576" width="4.6" height="4.5" fill="#fff" stroke="#222" stroke-width="0.8"/>
<rect x="493.2" y="576" width="4.6" height="4.5" fill="#fff" stroke="#222" stroke-width="0.8"/>
<rect x="501.95" y="576" width="4.6" height="4.5" fill="#fff" stroke="#222" stroke-width="0.8"/>
<polyline points="487.6,574.6 512,574.6 512,580 525,580 525,587.5 512,587.5 512,589.5 487.6,589.5 487.6,574.6" fill="none" stroke="#444" stroke-width="0.8" stroke-dasharray="none"/>
<line x1="504.5" y1="543" x2="504.5" y2="600" stroke="#222" stroke-width="0.9"/>
<polygon points="502.7,592 504.25,584 505.8,592" fill="#111" stroke="none" stroke-width="0"/>
<polygon points="504.5,571.3 512,569.8 512,572.8" fill="#111" stroke="none" stroke-width="0"/>
<line x1="512" y1="571.5" x2="520" y2="571.5" stroke="#222" stroke-width="0.6"/>
<line x1="501.5" y1="547.3" x2="501.5" y2="578.8" stroke="#444" stroke-width="0.8"/>
<line x1="387.5" y1="520" x2="387.5" y2="587.3" stroke="#555" stroke-width="0.7"/>
<text x="404.75" y="530.4" font-size="6.34" fill="#1a1a1a" stroke="#1a1a1a" stroke-width="0.26" textLength="22.5" lengthAdjust="spacingAndGlyphs" text-anchor="start">130mm</text>
<text x="403" y="537.1" font-size="6.34" fill="#1a1a1a" stroke="#1a1a1a" stroke-width="0.26" textLength="24" lengthAdjust="spacingAndGlyphs" text-anchor="start">S/DOWN</text>
<polyline points="409.75,551.5 407.5,551.5 407.5,560" fill="none" stroke="#555" stroke-width="0.6"/>
<polygon points="405.9,559 409.1,559 407.5,566.5" fill="#111" stroke="none" stroke-width="0"/>
<text x="436.25" y="555.1" font-size="6.34" fill="#1a1a1a" stroke="#1a1a1a" stroke-width="0.26" textLength="26.55" lengthAdjust="spacingAndGlyphs" text-anchor="start">SXD2429</text>
<text x="428.4" y="560.75" font-size="6.34" fill="#1a1a1a" stroke="#1a1a1a" stroke-width="0.26" textLength="43.85" lengthAdjust="spacingAndGlyphs" text-anchor="start">COMFORT  PLUS</text>
<text x="436.25" y="568.6" font-size="6.34" fill="#808080" stroke="#808080" stroke-width="0.15" textLength="23.65" lengthAdjust="spacingAndGlyphs" text-anchor="start">PLASTER</text>
<text x="436.25" y="575.4" font-size="6.34" fill="#808080" stroke="#808080" stroke-width="0.15" textLength="21.35" lengthAdjust="spacingAndGlyphs" text-anchor="start">CEILING</text>
<text x="418.5" y="593.9" font-size="5.82" fill="#1a1a1a" stroke="#1a1a1a" stroke-width="0.26" textLength="61.25" lengthAdjust="spacingAndGlyphs" text-anchor="start">CONC'  TIMBER  BEAM</text>
<line x1="380" y1="596.5" x2="512" y2="596.5" stroke="#999" stroke-width="0.6" stroke-dasharray="6,3"/>
<text x="509" y="555" font-size="5.51" fill="#1a1a1a" stroke="#1a1a1a" stroke-width="0.26" textLength="21" lengthAdjust="spacingAndGlyphs" text-anchor="start">CONC,</text>
<text x="509" y="561.6" font-size="5.51" fill="#1a1a1a" stroke="#1a1a1a" stroke-width="0.26" textLength="19" lengthAdjust="spacingAndGlyphs" text-anchor="start">TIMBER</text>
<text x="514" y="567.7" font-size="5.51" fill="#1a1a1a" stroke="#1a1a1a" stroke-width="0.26" textLength="14" lengthAdjust="spacingAndGlyphs" text-anchor="start">BEAM</text>
<circle cx="421.5" cy="563" r="0.9" fill="none" stroke="#222" stroke-width="0.6"/>
<line x1="476" y1="563" x2="500" y2="571" stroke="#444" stroke-width="0.6"/>
<circle cx="475" cy="563" r="1" fill="none" stroke="#222" stroke-width="0.6"/>
<polygon points="503,572 497.84,571.71 498.63,569.24" fill="#111" stroke="none" stroke-width="0"/>
<line x1="422.75" y1="541.6" x2="395.75" y2="576.5" stroke="#555" stroke-width="0.6" stroke-dasharray="5,3"/>
<line x1="392" y1="578" x2="402" y2="565" stroke="#555" stroke-width="0.6"/>
<line x1="457.6" y1="500" x2="521.75" y2="548.4" stroke="#555" stroke-width="0.6" stroke-dasharray="10,3"/>
<text x="530" y="543.3" font-size="6.03" fill="#1a1a1a" stroke="#1a1a1a" stroke-width="0.26" textLength="7" lengthAdjust="spacingAndGlyphs" text-anchor="start">DP</text>
<circle cx="527.5" cy="541.5" r="0.9" fill="none" stroke="#222" stroke-width="0.5"/>
<rect x="529" y="526" width="5.3" height="10" fill="none" stroke="#999" stroke-width="0.6" stroke-dasharray="2,1.5"/>
<line x1="538" y1="531.5" x2="546" y2="531.5" stroke="#222" stroke-width="0.7"/>
<polygon points="532.3,531.3 538,529.7 538,532.9" fill="#111" stroke="none" stroke-width="0"/>
<rect x="501" y="546.2" width="24.6" height="3.6" fill="url(#hv)"/>
<line x1="501" y1="550.5" x2="525.7" y2="550.5" stroke="#222" stroke-width="1.1"/>
<line x1="501" y1="546.5" x2="521.5" y2="546.5" stroke="#555" stroke-width="0.8"/>
<line x1="521" y1="546" x2="537.7" y2="561.3" stroke="#555" stroke-width="0.6"/>
<line x1="520" y1="561.5" x2="537.7" y2="561.5" stroke="#888" stroke-width="0.6"/>
<line x1="520" y1="568.5" x2="540" y2="568.5" stroke="#999" stroke-width="0.5"/>
<line x1="539.5" y1="575" x2="539.5" y2="600" stroke="#999" stroke-width="0.6" stroke-dasharray="4,3"/>
<line x1="512" y1="589.5" x2="525" y2="600" stroke="#777" stroke-width="0.6"/>
<rect x="408" y="598.3" width="10" height="1.7" fill="#555" stroke="none" stroke-width="0"/>
<rect x="433.8" y="598.3" width="15.2" height="1.7" fill="#555" stroke="none" stroke-width="0"/>
<rect x="452" y="598.3" width="16" height="1.7" fill="#555" stroke="none" stroke-width="0"/>
</svg>
</body></html>
